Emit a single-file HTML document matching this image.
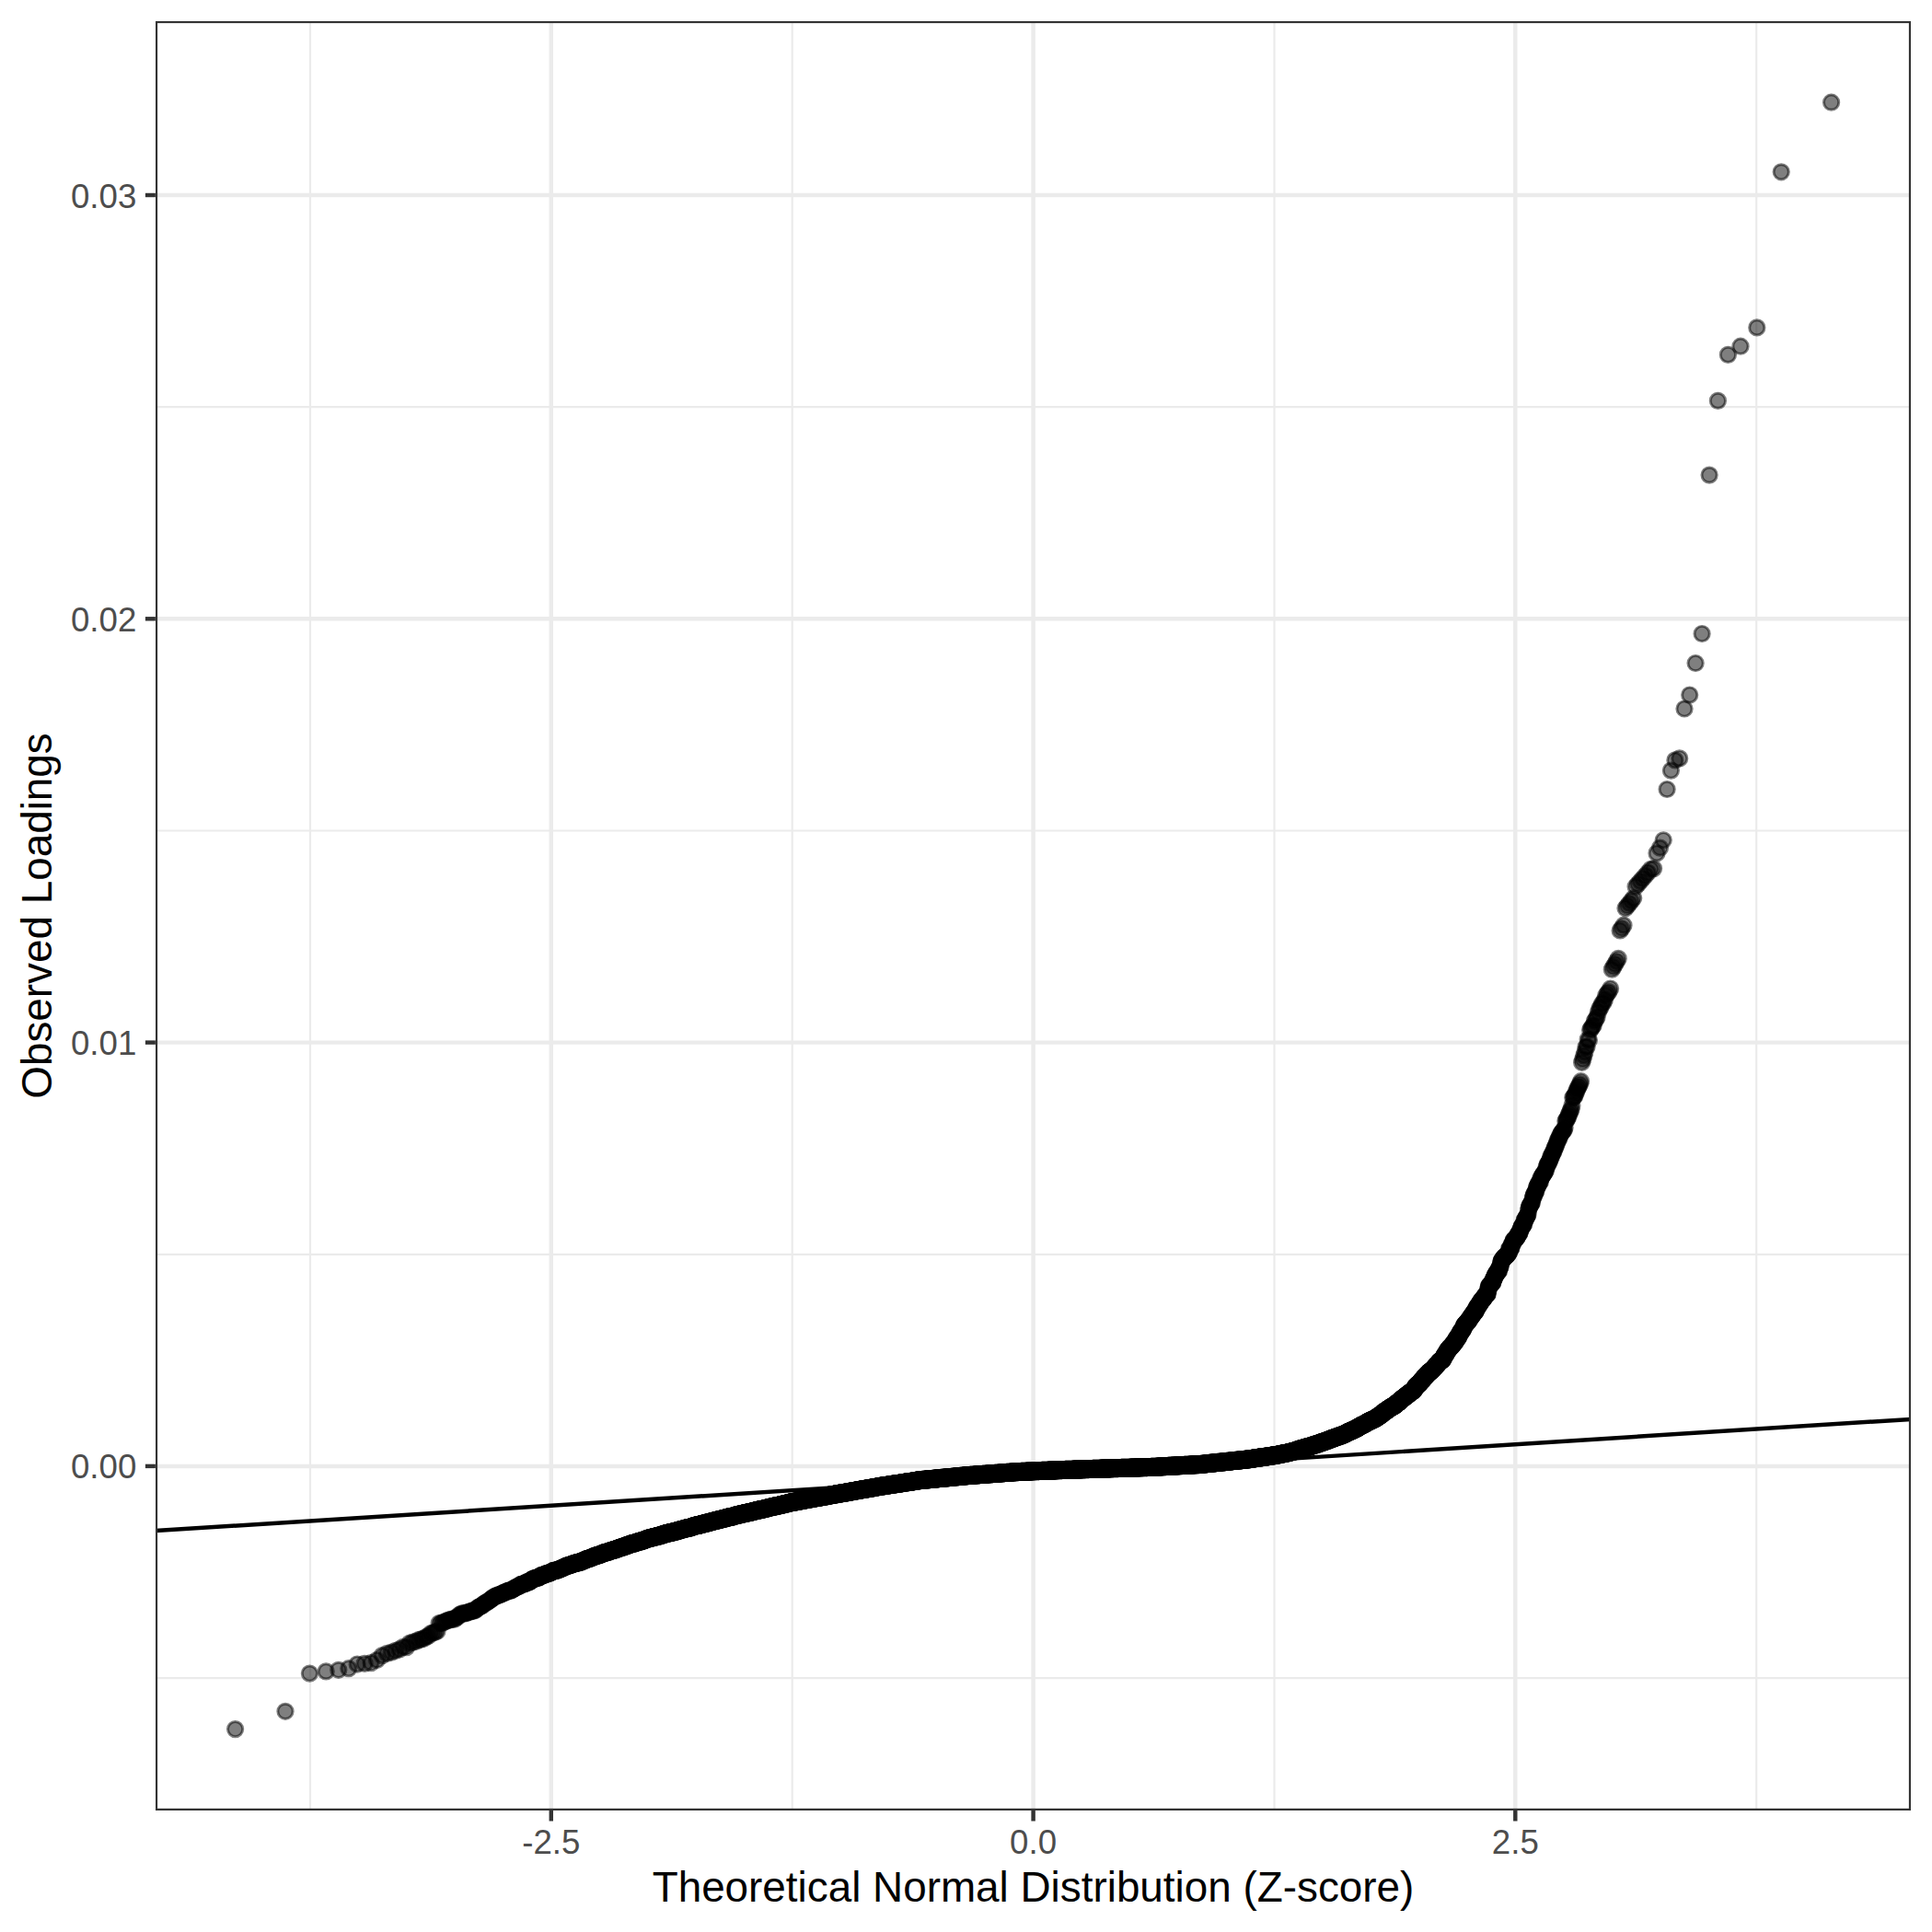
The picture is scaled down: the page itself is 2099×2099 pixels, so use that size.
<!DOCTYPE html>
<html><head><meta charset="utf-8"><title>QQ plot</title>
<style>
html,body{margin:0;padding:0;background:#fff}
svg{display:block}
text{font-family:"Liberation Sans",Arial,Helvetica,sans-serif}
</style></head><body>
<svg width="2099" height="2099" viewBox="0 0 2099 2099">
<rect width="2099" height="2099" fill="#fff"/>
<defs><clipPath id="pc"><rect x="168.9" y="22.9" width="1907.2" height="1944.1"/></clipPath></defs>
<g clip-path="url(#pc)">
<g stroke="#ebebeb" stroke-width="2.2" fill="none">
<path d="M337.0 22.9V1967.0"/><path d="M860.7 22.9V1967.0"/><path d="M1384.5 22.9V1967.0"/><path d="M1908.2 22.9V1967.0"/><path d="M168.9 1823.1H2076.1"/><path d="M168.9 1362.8H2076.1"/><path d="M168.9 902.5H2076.1"/><path d="M168.9 442.2H2076.1"/></g>
<g stroke="#ebebeb" stroke-width="4.45" fill="none">
<path d="M598.8 22.9V1967.0"/><path d="M1122.6 22.9V1967.0"/><path d="M1646.3 22.9V1967.0"/><path d="M168.9 1592.9H2076.1"/><path d="M168.9 1132.6H2076.1"/><path d="M168.9 672.3H2076.1"/><path d="M168.9 212.0H2076.1"/></g>
<g class="pt" fill="#000" stroke="#000" stroke-width="2.95" fill-opacity="0.5" stroke-opacity="0.5">
<circle cx="255.6" cy="1878.6" r="8.15"/><circle cx="310.0" cy="1859.3" r="8.15"/><circle cx="336.4" cy="1818.1" r="8.15"/><circle cx="354.2" cy="1815.9" r="8.15"/><circle cx="367.8" cy="1814.3" r="8.15"/><circle cx="378.8" cy="1812.7" r="8.15"/><circle cx="388.1" cy="1808.0" r="8.15"/><circle cx="396.1" cy="1807.4" r="8.15"/><circle cx="403.1" cy="1806.6" r="8.15"/><circle cx="409.5" cy="1803.5" r="8.15"/><circle cx="415.2" cy="1798.6" r="8.15"/><circle cx="420.5" cy="1796.4" r="8.15"/><circle cx="425.3" cy="1795.2" r="8.15"/><circle cx="429.8" cy="1793.4" r="8.15"/><circle cx="434.1" cy="1791.9" r="8.15"/><circle cx="438.0" cy="1789.4" r="8.15"/><circle cx="441.7" cy="1789.6" r="8.15"/><circle cx="445.2" cy="1785.1" r="8.15"/><circle cx="448.6" cy="1784.1" r="8.15"/><circle cx="451.7" cy="1783.4" r="8.15"/><circle cx="454.8" cy="1781.6" r="8.15"/><circle cx="457.6" cy="1780.9" r="8.15"/><circle cx="460.4" cy="1780.3" r="8.15"/><circle cx="463.1" cy="1778.4" r="8.15"/><circle cx="465.6" cy="1777.3" r="8.15"/><circle cx="468.1" cy="1774.5" r="8.15"/><circle cx="470.5" cy="1773.9" r="8.15"/><circle cx="472.8" cy="1773.2" r="8.15"/><circle cx="475.0" cy="1772.2" r="8.15"/><circle cx="477.1" cy="1763.6" r="8.15"/><circle cx="479.2" cy="1763.4" r="8.15"/><circle cx="481.2" cy="1762.9" r="8.15"/><circle cx="483.2" cy="1761.8" r="8.15"/><circle cx="485.1" cy="1761.2" r="8.15"/><circle cx="487.0" cy="1760.0" r="8.15"/><circle cx="488.8" cy="1759.9" r="8.15"/><circle cx="490.5" cy="1759.2" r="8.15"/><circle cx="492.2" cy="1759.2" r="8.15"/><circle cx="493.9" cy="1759.1" r="8.15"/><circle cx="495.6" cy="1757.4" r="8.15"/><circle cx="497.2" cy="1756.8" r="8.15"/><circle cx="498.7" cy="1754.7" r="8.15"/><circle cx="500.3" cy="1754.0" r="8.15"/><circle cx="501.8" cy="1752.9" r="8.15"/><circle cx="503.2" cy="1752.9" r="8.15"/><circle cx="504.7" cy="1752.8" r="8.15"/><circle cx="506.1" cy="1752.7" r="8.15"/><circle cx="507.4" cy="1752.0" r="8.15"/><circle cx="508.8" cy="1751.3" r="8.15"/><circle cx="510.1" cy="1751.1" r="8.15"/><circle cx="511.4" cy="1750.8" r="8.15"/><circle cx="512.7" cy="1750.2" r="8.15"/><circle cx="514.0" cy="1750.0" r="8.15"/><circle cx="515.2" cy="1749.9" r="8.15"/><circle cx="516.4" cy="1749.4" r="8.15"/><circle cx="517.6" cy="1748.3" r="8.15"/><circle cx="518.8" cy="1746.7" r="8.15"/><circle cx="520.0" cy="1746.3" r="8.15"/><circle cx="521.1" cy="1745.6" r="8.15"/><circle cx="522.2" cy="1745.1" r="8.15"/><circle cx="523.3" cy="1744.4" r="8.15"/><circle cx="524.4" cy="1744.3" r="8.15"/><circle cx="525.5" cy="1742.5" r="8.15"/><circle cx="526.6" cy="1741.8" r="8.15"/><circle cx="527.6" cy="1741.2" r="8.15"/><circle cx="528.6" cy="1741.1" r="8.15"/><circle cx="529.7" cy="1740.3" r="8.15"/><circle cx="530.7" cy="1739.5" r="8.15"/><circle cx="531.6" cy="1738.8" r="8.15"/><circle cx="532.6" cy="1738.4" r="8.15"/><circle cx="533.6" cy="1737.4" r="8.15"/><circle cx="534.5" cy="1736.3" r="8.15"/><circle cx="535.5" cy="1735.9" r="8.15"/><circle cx="536.4" cy="1735.6" r="8.15"/><circle cx="537.3" cy="1734.5" r="8.15"/><circle cx="538.2" cy="1734.0" r="8.15"/><circle cx="539.1" cy="1733.7" r="8.15"/><circle cx="540.0" cy="1733.6" r="8.15"/><circle cx="540.9" cy="1733.5" r="8.15"/><circle cx="541.7" cy="1732.7" r="8.15"/><circle cx="542.6" cy="1732.5" r="8.15"/><circle cx="543.4" cy="1732.5" r="8.15"/><circle cx="544.3" cy="1732.0" r="8.15"/><circle cx="545.1" cy="1731.8" r="8.15"/><circle cx="545.9" cy="1730.8" r="8.15"/><circle cx="546.7" cy="1730.6" r="8.15"/><circle cx="547.5" cy="1730.3" r="8.15"/><circle cx="548.3" cy="1730.3" r="8.15"/><circle cx="549.1" cy="1730.3" r="8.15"/><circle cx="549.8" cy="1729.0" r="8.15"/><circle cx="550.6" cy="1729.0" r="8.15"/><circle cx="551.4" cy="1728.5" r="8.15"/><circle cx="552.1" cy="1728.5" r="8.15"/><circle cx="552.9" cy="1727.9" r="8.15"/><circle cx="553.6" cy="1728.0" r="8.15"/><circle cx="554.3" cy="1727.8" r="8.15"/><circle cx="555.1" cy="1727.8" r="8.15"/><circle cx="555.8" cy="1727.8" r="8.15"/><circle cx="556.5" cy="1727.3" r="8.15"/><circle cx="557.2" cy="1726.4" r="8.15"/><circle cx="557.9" cy="1726.2" r="8.15"/><circle cx="558.6" cy="1725.7" r="8.15"/><circle cx="559.3" cy="1725.4" r="8.15"/><circle cx="559.9" cy="1725.3" r="8.15"/><circle cx="560.6" cy="1724.5" r="8.15"/><circle cx="561.3" cy="1724.0" r="8.15"/><circle cx="561.9" cy="1723.9" r="8.15"/><circle cx="562.6" cy="1723.7" r="8.15"/><circle cx="563.3" cy="1723.4" r="8.15"/><circle cx="563.9" cy="1723.1" r="8.15"/><circle cx="564.5" cy="1723.1" r="8.15"/><circle cx="565.2" cy="1721.7" r="8.15"/><circle cx="565.8" cy="1721.7" r="8.15"/><circle cx="566.4" cy="1721.3" r="8.15"/><circle cx="567.1" cy="1721.0" r="8.15"/><circle cx="567.7" cy="1721.0" r="8.15"/><circle cx="568.3" cy="1720.8" r="8.15"/><circle cx="568.9" cy="1720.8" r="8.15"/><circle cx="569.5" cy="1720.8" r="8.15"/><circle cx="570.1" cy="1720.7" r="8.15"/><circle cx="570.7" cy="1720.4" r="8.15"/><circle cx="571.3" cy="1720.1" r="8.15"/><circle cx="575.3" cy="1718.1" r="8.15"/><circle cx="576.9" cy="1717.7" r="8.15"/><circle cx="578.5" cy="1716.0" r="8.15"/><circle cx="580.1" cy="1715.2" r="8.15"/><circle cx="582.7" cy="1714.5" r="8.15"/><circle cx="599.6" cy="1707.7" r="8.15"/><circle cx="1571.0" cy="1470.5" r="8.15"/><circle cx="1581.5" cy="1456.9" r="8.15"/><circle cx="1584.6" cy="1451.9" r="8.15"/><circle cx="1586.3" cy="1448.8" r="8.15"/><circle cx="1586.5" cy="1448.1" r="8.15"/><circle cx="1590.2" cy="1442.1" r="8.15"/><circle cx="1590.4" cy="1441.0" r="8.15"/><circle cx="1595.9" cy="1434.1" r="8.15"/><circle cx="1596.8" cy="1433.0" r="8.15"/><circle cx="1597.5" cy="1431.7" r="8.15"/><circle cx="1598.3" cy="1430.6" r="8.15"/><circle cx="1599.7" cy="1429.0" r="8.15"/><circle cx="1601.0" cy="1426.5" r="8.15"/><circle cx="1603.5" cy="1423.4" r="8.15"/><circle cx="1603.7" cy="1422.1" r="8.15"/><circle cx="1608.7" cy="1414.4" r="8.15"/><circle cx="1612.1" cy="1410.3" r="8.15"/><circle cx="1613.2" cy="1408.1" r="8.15"/><circle cx="1614.3" cy="1407.5" r="8.15"/><circle cx="1614.6" cy="1406.9" r="8.15"/><circle cx="1616.4" cy="1402.9" r="8.15"/><circle cx="1617.3" cy="1398.3" r="8.15"/><circle cx="1618.8" cy="1396.8" r="8.15"/><circle cx="1623.4" cy="1388.5" r="8.15"/><circle cx="1623.8" cy="1387.5" r="8.15"/><circle cx="1624.1" cy="1386.3" r="8.15"/><circle cx="1624.4" cy="1385.6" r="8.15"/><circle cx="1628.7" cy="1377.8" r="8.15"/><circle cx="1629.7" cy="1376.8" r="8.15"/><circle cx="1630.1" cy="1376.0" r="8.15"/><circle cx="1630.4" cy="1373.9" r="8.15"/><circle cx="1630.8" cy="1371.0" r="8.15"/><circle cx="1632.5" cy="1368.9" r="8.15"/><circle cx="1632.9" cy="1367.5" r="8.15"/><circle cx="1634.0" cy="1366.4" r="8.15"/><circle cx="1636.5" cy="1364.2" r="8.15"/><circle cx="1638.4" cy="1361.9" r="8.15"/><circle cx="1639.6" cy="1360.8" r="8.15"/><circle cx="1641.5" cy="1356.5" r="8.15"/><circle cx="1641.9" cy="1355.9" r="8.15"/><circle cx="1643.1" cy="1351.8" r="8.15"/><circle cx="1643.5" cy="1350.7" r="8.15"/><circle cx="1643.9" cy="1350.2" r="8.15"/><circle cx="1646.8" cy="1345.7" r="8.15"/><circle cx="1648.1" cy="1344.3" r="8.15"/><circle cx="1649.4" cy="1342.1" r="8.15"/><circle cx="1649.8" cy="1340.4" r="8.15"/><circle cx="1651.1" cy="1339.0" r="8.15"/><circle cx="1651.6" cy="1337.3" r="8.15"/><circle cx="1652.0" cy="1335.6" r="8.15"/><circle cx="1652.5" cy="1335.1" r="8.15"/><circle cx="1654.7" cy="1330.8" r="8.15"/><circle cx="1657.1" cy="1324.7" r="8.15"/><circle cx="1657.6" cy="1324.2" r="8.15"/><circle cx="1658.0" cy="1322.6" r="8.15"/><circle cx="1658.5" cy="1321.8" r="8.15"/><circle cx="1659.0" cy="1321.2" r="8.15"/><circle cx="1659.5" cy="1320.8" r="8.15"/><circle cx="1660.0" cy="1319.6" r="8.15"/><circle cx="1660.5" cy="1315.4" r="8.15"/><circle cx="1661.0" cy="1312.9" r="8.15"/><circle cx="1661.5" cy="1311.4" r="8.15"/><circle cx="1662.0" cy="1309.9" r="8.15"/><circle cx="1662.5" cy="1309.0" r="8.15"/><circle cx="1663.0" cy="1308.6" r="8.15"/><circle cx="1663.5" cy="1308.1" r="8.15"/><circle cx="1664.0" cy="1306.9" r="8.15"/><circle cx="1664.5" cy="1306.0" r="8.15"/><circle cx="1665.1" cy="1302.6" r="8.15"/><circle cx="1665.6" cy="1300.9" r="8.15"/><circle cx="1667.2" cy="1296.3" r="8.15"/><circle cx="1667.7" cy="1295.9" r="8.15"/><circle cx="1668.3" cy="1294.8" r="8.15"/><circle cx="1668.8" cy="1294.4" r="8.15"/><circle cx="1669.4" cy="1290.5" r="8.15"/><circle cx="1671.1" cy="1287.3" r="8.15"/><circle cx="1671.6" cy="1285.4" r="8.15"/><circle cx="1672.2" cy="1285.1" r="8.15"/><circle cx="1672.8" cy="1284.3" r="8.15"/><circle cx="1673.4" cy="1284.1" r="8.15"/><circle cx="1673.9" cy="1280.2" r="8.15"/><circle cx="1674.5" cy="1279.6" r="8.15"/><circle cx="1675.1" cy="1278.1" r="8.15"/><circle cx="1675.7" cy="1277.1" r="8.15"/><circle cx="1676.3" cy="1276.5" r="8.15"/><circle cx="1676.9" cy="1275.7" r="8.15"/><circle cx="1677.5" cy="1274.7" r="8.15"/><circle cx="1678.1" cy="1273.7" r="8.15"/><circle cx="1678.8" cy="1272.7" r="8.15"/><circle cx="1679.4" cy="1271.7" r="8.15"/><circle cx="1680.0" cy="1268.0" r="8.15"/><circle cx="1680.7" cy="1267.0" r="8.15"/><circle cx="1681.3" cy="1264.7" r="8.15"/><circle cx="1681.9" cy="1264.3" r="8.15"/><circle cx="1682.6" cy="1263.2" r="8.15"/><circle cx="1683.3" cy="1261.7" r="8.15"/><circle cx="1683.9" cy="1260.0" r="8.15"/><circle cx="1684.6" cy="1257.1" r="8.15"/><circle cx="1685.3" cy="1257.1" r="8.15"/><circle cx="1685.9" cy="1254.5" r="8.15"/><circle cx="1686.6" cy="1253.8" r="8.15"/><circle cx="1687.3" cy="1251.8" r="8.15"/><circle cx="1688.0" cy="1251.0" r="8.15"/><circle cx="1688.7" cy="1248.0" r="8.15"/><circle cx="1689.4" cy="1247.1" r="8.15"/><circle cx="1690.1" cy="1245.3" r="8.15"/><circle cx="1690.9" cy="1243.6" r="8.15"/><circle cx="1691.6" cy="1241.5" r="8.15"/><circle cx="1692.3" cy="1239.0" r="8.15"/><circle cx="1693.1" cy="1237.6" r="8.15"/><circle cx="1693.8" cy="1237.1" r="8.15"/><circle cx="1694.6" cy="1234.4" r="8.15"/><circle cx="1695.4" cy="1232.7" r="8.15"/><circle cx="1696.1" cy="1231.1" r="8.15"/><circle cx="1696.9" cy="1230.3" r="8.15"/><circle cx="1697.7" cy="1229.1" r="8.15"/><circle cx="1698.5" cy="1228.2" r="8.15"/><circle cx="1699.3" cy="1227.6" r="8.15"/><circle cx="1700.1" cy="1225.0" r="8.15"/><circle cx="1700.9" cy="1217.9" r="8.15"/><circle cx="1701.8" cy="1217.3" r="8.15"/><circle cx="1702.6" cy="1215.4" r="8.15"/><circle cx="1703.5" cy="1214.0" r="8.15"/><circle cx="1704.3" cy="1211.6" r="8.15"/><circle cx="1705.2" cy="1209.4" r="8.15"/><circle cx="1706.1" cy="1207.1" r="8.15"/><circle cx="1707.0" cy="1205.2" r="8.15"/><circle cx="1707.9" cy="1201.0" r="8.15"/><circle cx="1708.8" cy="1192.6" r="8.15"/><circle cx="1709.7" cy="1191.9" r="8.15"/><circle cx="1710.7" cy="1190.9" r="8.15"/><circle cx="1711.6" cy="1188.6" r="8.15"/><circle cx="1712.6" cy="1185.9" r="8.15"/><circle cx="1713.6" cy="1183.5" r="8.15"/><circle cx="1714.5" cy="1181.5" r="8.15"/><circle cx="1715.5" cy="1179.8" r="8.15"/><circle cx="1716.6" cy="1177.6" r="8.15"/><circle cx="1717.6" cy="1174.7" r="8.15"/><circle cx="1718.6" cy="1154.3" r="8.15"/><circle cx="1719.7" cy="1150.9" r="8.15"/><circle cx="1720.8" cy="1146.9" r="8.15"/><circle cx="1721.9" cy="1143.1" r="8.15"/><circle cx="1723.0" cy="1137.5" r="8.15"/><circle cx="1724.1" cy="1137.0" r="8.15"/><circle cx="1725.2" cy="1129.3" r="8.15"/><circle cx="1726.4" cy="1130.0" r="8.15"/><circle cx="1727.6" cy="1119.0" r="8.15"/><circle cx="1728.8" cy="1117.4" r="8.15"/><circle cx="1730.0" cy="1115.3" r="8.15"/><circle cx="1731.2" cy="1114.0" r="8.15"/><circle cx="1732.5" cy="1109.4" r="8.15"/><circle cx="1733.8" cy="1107.2" r="8.15"/><circle cx="1735.1" cy="1105.0" r="8.15"/><circle cx="1736.4" cy="1099.8" r="8.15"/><circle cx="1737.8" cy="1095.9" r="8.15"/><circle cx="1739.1" cy="1094.1" r="8.15"/><circle cx="1740.5" cy="1090.5" r="8.15"/><circle cx="1742.0" cy="1089.3" r="8.15"/><circle cx="1743.4" cy="1086.0" r="8.15"/><circle cx="1744.9" cy="1081.3" r="8.15"/><circle cx="1746.5" cy="1079.1" r="8.15"/><circle cx="1748.0" cy="1077.3" r="8.15"/><circle cx="1749.6" cy="1074.0" r="8.15"/><circle cx="1751.3" cy="1053.2" r="8.15"/><circle cx="1753.0" cy="1050.4" r="8.15"/><circle cx="1754.7" cy="1047.5" r="8.15"/><circle cx="1756.4" cy="1044.5" r="8.15"/><circle cx="1758.2" cy="1041.4" r="8.15"/><circle cx="1760.1" cy="1011.0" r="8.15"/><circle cx="1762.0" cy="1008.5" r="8.15"/><circle cx="1764.0" cy="1005.2" r="8.15"/><circle cx="1766.0" cy="986.8" r="8.15"/><circle cx="1768.1" cy="984.2" r="8.15"/><circle cx="1770.2" cy="981.5" r="8.15"/><circle cx="1772.4" cy="978.7" r="8.15"/><circle cx="1774.7" cy="975.8" r="8.15"/><circle cx="1777.1" cy="963.2" r="8.15"/><circle cx="1779.6" cy="960.4" r="8.15"/><circle cx="1782.1" cy="957.5" r="8.15"/><circle cx="1784.8" cy="954.5" r="8.15"/><circle cx="1787.6" cy="951.3" r="8.15"/><circle cx="1790.4" cy="948.0" r="8.15"/><circle cx="1793.5" cy="944.3" r="8.15"/><circle cx="1796.6" cy="943.6" r="8.15"/><circle cx="1800.0" cy="926.9" r="8.15"/><circle cx="1803.5" cy="921.1" r="8.15"/><circle cx="1807.2" cy="912.8" r="8.15"/><circle cx="1811.1" cy="857.5" r="8.15"/><circle cx="1815.4" cy="837.1" r="8.15"/><circle cx="1819.9" cy="825.9" r="8.15"/><circle cx="1824.7" cy="823.9" r="8.15"/><circle cx="1830.0" cy="770.0" r="8.15"/><circle cx="1835.7" cy="755.0" r="8.15"/><circle cx="1842.1" cy="720.5" r="8.15"/><circle cx="1849.1" cy="688.5" r="8.15"/><circle cx="1857.1" cy="516.1" r="8.15"/><circle cx="1866.4" cy="435.4" r="8.15"/><circle cx="1877.4" cy="385.4" r="8.15"/><circle cx="1891.0" cy="376.2" r="8.15"/><circle cx="1908.8" cy="355.9" r="8.15"/><circle cx="1935.2" cy="186.8" r="8.15"/><circle cx="1989.6" cy="111.2" r="8.15"/>
</g>
<g class="pt" fill="#000" stroke="#000" stroke-width="3.40" fill-opacity="0.75" stroke-opacity="0.75">
<circle cx="572.1" cy="1719.0" r="8.15"/><circle cx="573.3" cy="1718.9" r="8.15"/><circle cx="574.4" cy="1718.8" r="8.15"/><circle cx="576.1" cy="1717.8" r="8.15"/><circle cx="577.7" cy="1716.2" r="8.15"/><circle cx="579.3" cy="1715.5" r="8.15"/><circle cx="580.9" cy="1714.9" r="8.15"/><circle cx="581.9" cy="1714.7" r="8.15"/><circle cx="583.5" cy="1714.1" r="8.15"/><circle cx="584.5" cy="1714.0" r="8.15"/><circle cx="585.5" cy="1713.7" r="8.15"/><circle cx="586.4" cy="1712.9" r="8.15"/><circle cx="587.4" cy="1712.2" r="8.15"/><circle cx="588.4" cy="1711.7" r="8.15"/><circle cx="589.3" cy="1711.5" r="8.15"/><circle cx="590.2" cy="1711.4" r="8.15"/><circle cx="591.2" cy="1710.9" r="8.15"/><circle cx="592.1" cy="1710.6" r="8.15"/><circle cx="593.0" cy="1710.3" r="8.15"/><circle cx="593.9" cy="1709.7" r="8.15"/><circle cx="594.7" cy="1709.5" r="8.15"/><circle cx="595.6" cy="1709.3" r="8.15"/><circle cx="596.5" cy="1709.2" r="8.15"/><circle cx="597.3" cy="1708.9" r="8.15"/><circle cx="598.2" cy="1708.4" r="8.15"/><circle cx="599.0" cy="1708.1" r="8.15"/><circle cx="600.3" cy="1707.1" r="8.15"/><circle cx="601.1" cy="1706.6" r="8.15"/><circle cx="601.9" cy="1706.6" r="8.15"/><circle cx="602.7" cy="1706.5" r="8.15"/><circle cx="603.5" cy="1706.3" r="8.15"/><circle cx="604.3" cy="1706.1" r="8.15"/><circle cx="605.1" cy="1706.0" r="8.15"/><circle cx="605.8" cy="1705.8" r="8.15"/><circle cx="606.6" cy="1705.3" r="8.15"/><circle cx="607.4" cy="1705.0" r="8.15"/><circle cx="608.1" cy="1704.8" r="8.15"/><circle cx="608.8" cy="1704.5" r="8.15"/><circle cx="609.6" cy="1704.1" r="8.15"/><circle cx="610.3" cy="1703.8" r="8.15"/><circle cx="611.0" cy="1703.5" r="8.15"/><circle cx="611.8" cy="1703.4" r="8.15"/><circle cx="612.5" cy="1703.1" r="8.15"/><circle cx="613.2" cy="1702.3" r="8.15"/><circle cx="613.9" cy="1702.2" r="8.15"/><circle cx="614.6" cy="1701.9" r="8.15"/><circle cx="615.3" cy="1701.5" r="8.15"/><circle cx="616.0" cy="1701.2" r="8.15"/><circle cx="616.7" cy="1701.1" r="8.15"/><circle cx="617.3" cy="1701.0" r="8.15"/><circle cx="618.0" cy="1700.6" r="8.15"/><circle cx="618.7" cy="1700.5" r="8.15"/><circle cx="619.3" cy="1700.4" r="8.15"/><circle cx="620.0" cy="1700.2" r="8.15"/><circle cx="620.6" cy="1699.8" r="8.15"/><circle cx="621.3" cy="1699.5" r="8.15"/><circle cx="621.9" cy="1699.3" r="8.15"/><circle cx="622.6" cy="1699.1" r="8.15"/><circle cx="623.2" cy="1698.9" r="8.15"/><circle cx="623.8" cy="1698.7" r="8.15"/><circle cx="624.4" cy="1698.5" r="8.15"/><circle cx="625.1" cy="1698.4" r="8.15"/><circle cx="625.7" cy="1698.3" r="8.15"/><circle cx="626.3" cy="1697.9" r="8.15"/><circle cx="626.9" cy="1697.7" r="8.15"/><circle cx="627.5" cy="1697.6" r="8.15"/><circle cx="629.0" cy="1697.4" r="8.15"/><circle cx="630.4" cy="1697.0" r="8.15"/><circle cx="631.9" cy="1696.6" r="8.15"/><circle cx="632.4" cy="1696.2" r="8.15"/><circle cx="634.7" cy="1695.2" r="8.15"/><circle cx="636.1" cy="1694.6" r="8.15"/><circle cx="641.3" cy="1692.9" r="8.15"/><circle cx="643.4" cy="1692.0" r="8.15"/><circle cx="654.5" cy="1687.9" r="8.15"/><circle cx="1502.4" cy="1535.0" r="8.15"/><circle cx="1537.7" cy="1507.2" r="8.15"/><circle cx="1549.6" cy="1494.2" r="8.15"/><circle cx="1557.3" cy="1487.1" r="8.15"/><circle cx="1559.4" cy="1484.9" r="8.15"/><circle cx="1567.3" cy="1477.2" r="8.15"/><circle cx="1568.2" cy="1475.4" r="8.15"/><circle cx="1568.5" cy="1474.5" r="8.15"/><circle cx="1568.9" cy="1473.4" r="8.15"/><circle cx="1569.3" cy="1472.8" r="8.15"/><circle cx="1570.7" cy="1471.4" r="8.15"/><circle cx="1571.2" cy="1469.7" r="8.15"/><circle cx="1571.6" cy="1469.2" r="8.15"/><circle cx="1572.5" cy="1468.0" r="8.15"/><circle cx="1574.0" cy="1465.7" r="8.15"/><circle cx="1574.4" cy="1465.2" r="8.15"/><circle cx="1575.9" cy="1463.7" r="8.15"/><circle cx="1578.0" cy="1461.2" r="8.15"/><circle cx="1578.4" cy="1460.7" r="8.15"/><circle cx="1578.8" cy="1460.0" r="8.15"/><circle cx="1579.2" cy="1459.5" r="8.15"/><circle cx="1580.2" cy="1458.6" r="8.15"/><circle cx="1581.2" cy="1457.6" r="8.15"/><circle cx="1581.8" cy="1455.2" r="8.15"/><circle cx="1583.4" cy="1453.8" r="8.15"/><circle cx="1583.8" cy="1453.2" r="8.15"/><circle cx="1584.3" cy="1452.7" r="8.15"/><circle cx="1585.5" cy="1450.3" r="8.15"/><circle cx="1585.9" cy="1449.4" r="8.15"/><circle cx="1586.8" cy="1447.2" r="8.15"/><circle cx="1587.9" cy="1446.2" r="8.15"/><circle cx="1588.3" cy="1445.8" r="8.15"/><circle cx="1588.7" cy="1444.7" r="8.15"/><circle cx="1589.8" cy="1443.1" r="8.15"/><circle cx="1592.7" cy="1437.8" r="8.15"/><circle cx="1593.2" cy="1437.3" r="8.15"/><circle cx="1593.7" cy="1436.7" r="8.15"/><circle cx="1594.1" cy="1436.3" r="8.15"/><circle cx="1597.2" cy="1432.1" r="8.15"/><circle cx="1597.9" cy="1430.9" r="8.15"/><circle cx="1598.6" cy="1429.8" r="8.15"/><circle cx="1600.1" cy="1428.1" r="8.15"/><circle cx="1600.6" cy="1427.2" r="8.15"/><circle cx="1601.3" cy="1425.7" r="8.15"/><circle cx="1602.6" cy="1425.0" r="8.15"/><circle cx="1603.1" cy="1424.5" r="8.15"/><circle cx="1604.9" cy="1420.8" r="8.15"/><circle cx="1605.4" cy="1419.2" r="8.15"/><circle cx="1605.9" cy="1418.4" r="8.15"/><circle cx="1606.5" cy="1418.1" r="8.15"/><circle cx="1607.8" cy="1416.0" r="8.15"/><circle cx="1608.3" cy="1414.8" r="8.15"/><circle cx="1610.0" cy="1413.1" r="8.15"/><circle cx="1610.5" cy="1411.8" r="8.15"/><circle cx="1611.1" cy="1411.3" r="8.15"/><circle cx="1611.6" cy="1411.1" r="8.15"/><circle cx="1615.1" cy="1406.1" r="8.15"/><circle cx="1616.8" cy="1401.2" r="8.15"/><circle cx="1617.7" cy="1397.3" r="8.15"/><circle cx="1618.3" cy="1397.2" r="8.15"/><circle cx="1619.2" cy="1395.6" r="8.15"/><circle cx="1619.8" cy="1395.0" r="8.15"/><circle cx="1620.5" cy="1394.4" r="8.15"/><circle cx="1621.1" cy="1393.7" r="8.15"/><circle cx="1621.7" cy="1393.1" r="8.15"/><circle cx="1622.3" cy="1390.3" r="8.15"/><circle cx="1623.0" cy="1389.1" r="8.15"/><circle cx="1624.9" cy="1384.8" r="8.15"/><circle cx="1625.5" cy="1384.0" r="8.15"/><circle cx="1626.2" cy="1383.1" r="8.15"/><circle cx="1626.9" cy="1381.4" r="8.15"/><circle cx="1627.5" cy="1381.0" r="8.15"/><circle cx="1628.2" cy="1380.9" r="8.15"/><circle cx="1629.2" cy="1377.1" r="8.15"/><circle cx="1631.3" cy="1370.0" r="8.15"/><circle cx="1632.0" cy="1369.3" r="8.15"/><circle cx="1633.4" cy="1366.9" r="8.15"/><circle cx="1634.5" cy="1365.7" r="8.15"/><circle cx="1635.2" cy="1365.1" r="8.15"/><circle cx="1636.0" cy="1364.7" r="8.15"/><circle cx="1637.1" cy="1363.6" r="8.15"/><circle cx="1637.8" cy="1362.7" r="8.15"/><circle cx="1639.0" cy="1360.9" r="8.15"/><circle cx="1640.1" cy="1356.5" r="8.15"/><circle cx="1640.9" cy="1356.4" r="8.15"/><circle cx="1642.5" cy="1351.9" r="8.15"/><circle cx="1644.5" cy="1347.4" r="8.15"/><circle cx="1645.4" cy="1346.9" r="8.15"/><circle cx="1646.2" cy="1346.0" r="8.15"/><circle cx="1647.4" cy="1344.9" r="8.15"/><circle cx="1648.7" cy="1342.3" r="8.15"/><circle cx="1650.5" cy="1339.8" r="8.15"/><circle cx="1653.1" cy="1333.2" r="8.15"/><circle cx="1654.0" cy="1331.7" r="8.15"/><circle cx="1655.4" cy="1330.1" r="8.15"/><circle cx="1656.4" cy="1325.8" r="8.15"/><circle cx="1666.4" cy="1298.7" r="8.15"/><circle cx="1670.2" cy="1289.0" r="8.15"/>
</g>
<g class="pt" fill="#000" stroke="#000" stroke-width="3.62" fill-opacity="0.875" stroke-opacity="0.875">
<circle cx="628.2" cy="1697.6" r="8.15"/><circle cx="629.7" cy="1697.2" r="8.15"/><circle cx="631.2" cy="1696.8" r="8.15"/><circle cx="633.1" cy="1695.9" r="8.15"/><circle cx="634.0" cy="1695.5" r="8.15"/><circle cx="635.4" cy="1695.0" r="8.15"/><circle cx="636.7" cy="1694.1" r="8.15"/><circle cx="637.5" cy="1693.9" r="8.15"/><circle cx="638.3" cy="1693.7" r="8.15"/><circle cx="639.1" cy="1693.5" r="8.15"/><circle cx="639.9" cy="1693.3" r="8.15"/><circle cx="640.7" cy="1693.1" r="8.15"/><circle cx="642.0" cy="1692.5" r="8.15"/><circle cx="642.7" cy="1692.3" r="8.15"/><circle cx="644.0" cy="1691.6" r="8.15"/><circle cx="644.7" cy="1691.3" r="8.15"/><circle cx="645.5" cy="1691.0" r="8.15"/><circle cx="646.2" cy="1690.7" r="8.15"/><circle cx="646.9" cy="1690.6" r="8.15"/><circle cx="647.7" cy="1690.3" r="8.15"/><circle cx="648.4" cy="1690.0" r="8.15"/><circle cx="649.1" cy="1689.7" r="8.15"/><circle cx="649.8" cy="1689.6" r="8.15"/><circle cx="650.5" cy="1689.4" r="8.15"/><circle cx="651.2" cy="1689.2" r="8.15"/><circle cx="651.9" cy="1689.0" r="8.15"/><circle cx="652.6" cy="1688.7" r="8.15"/><circle cx="653.3" cy="1688.4" r="8.15"/><circle cx="653.9" cy="1688.3" r="8.15"/><circle cx="655.0" cy="1687.5" r="8.15"/><circle cx="655.7" cy="1687.2" r="8.15"/><circle cx="656.4" cy="1687.2" r="8.15"/><circle cx="657.0" cy="1687.0" r="8.15"/><circle cx="657.7" cy="1686.7" r="8.15"/><circle cx="658.3" cy="1686.5" r="8.15"/><circle cx="658.9" cy="1686.4" r="8.15"/><circle cx="659.6" cy="1686.3" r="8.15"/><circle cx="660.2" cy="1686.2" r="8.15"/><circle cx="660.8" cy="1686.0" r="8.15"/><circle cx="661.5" cy="1685.8" r="8.15"/><circle cx="662.1" cy="1685.5" r="8.15"/><circle cx="662.7" cy="1685.1" r="8.15"/><circle cx="663.3" cy="1684.9" r="8.15"/><circle cx="663.9" cy="1684.7" r="8.15"/><circle cx="664.5" cy="1684.5" r="8.15"/><circle cx="665.1" cy="1684.4" r="8.15"/><circle cx="665.7" cy="1684.3" r="8.15"/><circle cx="666.3" cy="1684.1" r="8.15"/><circle cx="666.9" cy="1683.9" r="8.15"/><circle cx="667.5" cy="1683.7" r="8.15"/><circle cx="668.8" cy="1683.4" r="8.15"/><circle cx="669.4" cy="1683.2" r="8.15"/><circle cx="670.0" cy="1682.9" r="8.15"/><circle cx="672.8" cy="1682.0" r="8.15"/><circle cx="677.6" cy="1680.4" r="8.15"/><circle cx="684.2" cy="1678.0" r="8.15"/><circle cx="685.4" cy="1677.5" r="8.15"/><circle cx="1516.9" cy="1525.2" r="8.15"/><circle cx="1521.3" cy="1521.7" r="8.15"/><circle cx="1527.4" cy="1516.8" r="8.15"/><circle cx="1535.6" cy="1510.4" r="8.15"/><circle cx="1535.9" cy="1509.8" r="8.15"/><circle cx="1536.3" cy="1509.4" r="8.15"/><circle cx="1538.0" cy="1506.4" r="8.15"/><circle cx="1539.1" cy="1505.6" r="8.15"/><circle cx="1539.5" cy="1505.2" r="8.15"/><circle cx="1541.6" cy="1503.5" r="8.15"/><circle cx="1543.1" cy="1501.5" r="8.15"/><circle cx="1545.2" cy="1499.5" r="8.15"/><circle cx="1546.2" cy="1498.5" r="8.15"/><circle cx="1546.6" cy="1497.4" r="8.15"/><circle cx="1548.2" cy="1495.4" r="8.15"/><circle cx="1549.2" cy="1494.9" r="8.15"/><circle cx="1550.5" cy="1493.1" r="8.15"/><circle cx="1551.6" cy="1492.3" r="8.15"/><circle cx="1552.0" cy="1491.5" r="8.15"/><circle cx="1555.5" cy="1488.8" r="8.15"/><circle cx="1556.0" cy="1488.3" r="8.15"/><circle cx="1556.5" cy="1488.0" r="8.15"/><circle cx="1557.0" cy="1487.5" r="8.15"/><circle cx="1557.7" cy="1486.5" r="8.15"/><circle cx="1559.8" cy="1484.1" r="8.15"/><circle cx="1560.3" cy="1483.3" r="8.15"/><circle cx="1561.5" cy="1482.2" r="8.15"/><circle cx="1562.0" cy="1481.7" r="8.15"/><circle cx="1562.5" cy="1481.2" r="8.15"/><circle cx="1563.0" cy="1480.4" r="8.15"/><circle cx="1563.5" cy="1479.9" r="8.15"/><circle cx="1564.0" cy="1479.4" r="8.15"/><circle cx="1564.5" cy="1478.8" r="8.15"/><circle cx="1565.7" cy="1478.1" r="8.15"/><circle cx="1566.9" cy="1477.5" r="8.15"/><circle cx="1567.8" cy="1476.3" r="8.15"/><circle cx="1569.7" cy="1472.1" r="8.15"/><circle cx="1570.2" cy="1471.8" r="8.15"/><circle cx="1572.1" cy="1468.4" r="8.15"/><circle cx="1573.0" cy="1466.8" r="8.15"/><circle cx="1573.5" cy="1466.2" r="8.15"/><circle cx="1574.8" cy="1464.5" r="8.15"/><circle cx="1575.4" cy="1464.0" r="8.15"/><circle cx="1576.4" cy="1463.0" r="8.15"/><circle cx="1576.9" cy="1462.5" r="8.15"/><circle cx="1577.5" cy="1462.0" r="8.15"/><circle cx="1579.7" cy="1458.9" r="8.15"/><circle cx="1580.7" cy="1458.0" r="8.15"/><circle cx="1582.3" cy="1454.8" r="8.15"/><circle cx="1582.9" cy="1454.1" r="8.15"/><circle cx="1585.0" cy="1450.5" r="8.15"/><circle cx="1587.3" cy="1446.6" r="8.15"/><circle cx="1589.3" cy="1443.7" r="8.15"/><circle cx="1590.8" cy="1440.0" r="8.15"/><circle cx="1591.5" cy="1439.2" r="8.15"/><circle cx="1592.2" cy="1439.0" r="8.15"/><circle cx="1594.7" cy="1435.7" r="8.15"/><circle cx="1595.4" cy="1435.0" r="8.15"/><circle cx="1596.3" cy="1433.3" r="8.15"/><circle cx="1599.2" cy="1429.4" r="8.15"/><circle cx="1602.0" cy="1425.3" r="8.15"/><circle cx="1604.2" cy="1421.1" r="8.15"/><circle cx="1607.1" cy="1417.0" r="8.15"/><circle cx="1609.3" cy="1413.3" r="8.15"/><circle cx="1612.6" cy="1409.4" r="8.15"/><circle cx="1613.8" cy="1407.4" r="8.15"/><circle cx="1615.8" cy="1405.7" r="8.15"/>
</g>
<g class="pt" fill="#000" stroke="#000" stroke-width="3.74" fill-opacity="0.9375" stroke-opacity="0.9375">
<circle cx="668.2" cy="1683.6" r="8.15"/><circle cx="670.6" cy="1682.6" r="8.15"/><circle cx="671.4" cy="1682.4" r="8.15"/><circle cx="672.1" cy="1682.2" r="8.15"/><circle cx="673.4" cy="1681.6" r="8.15"/><circle cx="674.1" cy="1681.4" r="8.15"/><circle cx="674.9" cy="1681.2" r="8.15"/><circle cx="675.6" cy="1681.0" r="8.15"/><circle cx="676.3" cy="1680.8" r="8.15"/><circle cx="677.0" cy="1680.6" r="8.15"/><circle cx="678.2" cy="1680.1" r="8.15"/><circle cx="678.9" cy="1679.9" r="8.15"/><circle cx="679.6" cy="1679.6" r="8.15"/><circle cx="680.3" cy="1679.3" r="8.15"/><circle cx="681.0" cy="1679.1" r="8.15"/><circle cx="681.7" cy="1678.9" r="8.15"/><circle cx="682.3" cy="1678.6" r="8.15"/><circle cx="683.0" cy="1678.4" r="8.15"/><circle cx="683.7" cy="1678.2" r="8.15"/><circle cx="684.8" cy="1677.7" r="8.15"/><circle cx="685.9" cy="1677.2" r="8.15"/><circle cx="686.6" cy="1677.0" r="8.15"/><circle cx="687.2" cy="1676.9" r="8.15"/><circle cx="687.9" cy="1676.8" r="8.15"/><circle cx="688.5" cy="1676.7" r="8.15"/><circle cx="689.1" cy="1676.5" r="8.15"/><circle cx="689.7" cy="1676.4" r="8.15"/><circle cx="690.4" cy="1676.1" r="8.15"/><circle cx="691.0" cy="1675.9" r="8.15"/><circle cx="691.6" cy="1675.7" r="8.15"/><circle cx="692.2" cy="1675.5" r="8.15"/><circle cx="692.8" cy="1675.2" r="8.15"/><circle cx="693.4" cy="1675.1" r="8.15"/><circle cx="694.0" cy="1674.9" r="8.15"/><circle cx="695.3" cy="1674.6" r="8.15"/><circle cx="695.9" cy="1674.4" r="8.15"/><circle cx="696.5" cy="1674.3" r="8.15"/><circle cx="697.1" cy="1674.0" r="8.15"/><circle cx="699.1" cy="1673.5" r="8.15"/><circle cx="700.3" cy="1673.1" r="8.15"/><circle cx="700.9" cy="1672.7" r="8.15"/><circle cx="701.5" cy="1672.5" r="8.15"/><circle cx="703.4" cy="1671.8" r="8.15"/><circle cx="720.2" cy="1667.2" r="8.15"/><circle cx="1506.1" cy="1532.6" r="8.15"/><circle cx="1506.5" cy="1532.1" r="8.15"/><circle cx="1514.9" cy="1527.0" r="8.15"/><circle cx="1517.3" cy="1524.8" r="8.15"/><circle cx="1520.5" cy="1522.6" r="8.15"/><circle cx="1520.9" cy="1522.1" r="8.15"/><circle cx="1522.3" cy="1520.7" r="8.15"/><circle cx="1522.7" cy="1520.3" r="8.15"/><circle cx="1523.9" cy="1519.7" r="8.15"/><circle cx="1524.3" cy="1519.2" r="8.15"/><circle cx="1524.8" cy="1518.7" r="8.15"/><circle cx="1525.8" cy="1518.0" r="8.15"/><circle cx="1529.0" cy="1515.6" r="8.15"/><circle cx="1529.5" cy="1515.1" r="8.15"/><circle cx="1530.0" cy="1514.7" r="8.15"/><circle cx="1531.7" cy="1513.4" r="8.15"/><circle cx="1532.2" cy="1513.0" r="8.15"/><circle cx="1532.7" cy="1512.4" r="8.15"/><circle cx="1535.1" cy="1510.9" r="8.15"/><circle cx="1536.8" cy="1508.9" r="8.15"/><circle cx="1537.3" cy="1508.3" r="8.15"/><circle cx="1539.9" cy="1504.6" r="8.15"/><circle cx="1541.1" cy="1504.0" r="8.15"/><circle cx="1542.1" cy="1502.9" r="8.15"/><circle cx="1542.6" cy="1502.4" r="8.15"/><circle cx="1543.6" cy="1501.0" r="8.15"/><circle cx="1544.2" cy="1500.1" r="8.15"/><circle cx="1544.7" cy="1499.8" r="8.15"/><circle cx="1545.7" cy="1499.0" r="8.15"/><circle cx="1547.1" cy="1496.9" r="8.15"/><circle cx="1547.7" cy="1496.2" r="8.15"/><circle cx="1548.7" cy="1495.1" r="8.15"/><circle cx="1550.0" cy="1493.5" r="8.15"/><circle cx="1551.1" cy="1492.6" r="8.15"/><circle cx="1552.6" cy="1490.9" r="8.15"/><circle cx="1553.2" cy="1490.6" r="8.15"/><circle cx="1553.8" cy="1490.2" r="8.15"/><circle cx="1554.4" cy="1489.8" r="8.15"/><circle cx="1555.0" cy="1489.3" r="8.15"/><circle cx="1558.3" cy="1486.0" r="8.15"/><circle cx="1558.9" cy="1485.5" r="8.15"/><circle cx="1560.9" cy="1482.8" r="8.15"/><circle cx="1565.1" cy="1478.3" r="8.15"/><circle cx="1566.3" cy="1477.7" r="8.15"/>
</g>
<g class="pt" fill="#000" stroke="#000" stroke-width="3.79" fill-opacity="0.9688" stroke-opacity="0.9688">
<circle cx="694.7" cy="1674.8" r="8.15"/><circle cx="697.7" cy="1673.8" r="8.15"/><circle cx="698.4" cy="1673.7" r="8.15"/><circle cx="699.7" cy="1673.3" r="8.15"/><circle cx="702.1" cy="1672.2" r="8.15"/><circle cx="702.8" cy="1672.1" r="8.15"/><circle cx="704.0" cy="1671.6" r="8.15"/><circle cx="704.7" cy="1671.4" r="8.15"/><circle cx="705.3" cy="1671.2" r="8.15"/><circle cx="706.0" cy="1671.1" r="8.15"/><circle cx="706.7" cy="1670.9" r="8.15"/><circle cx="707.3" cy="1670.8" r="8.15"/><circle cx="708.0" cy="1670.6" r="8.15"/><circle cx="708.6" cy="1670.4" r="8.15"/><circle cx="709.3" cy="1670.2" r="8.15"/><circle cx="709.9" cy="1670.1" r="8.15"/><circle cx="710.5" cy="1669.9" r="8.15"/><circle cx="711.2" cy="1669.7" r="8.15"/><circle cx="711.8" cy="1669.7" r="8.15"/><circle cx="712.4" cy="1669.5" r="8.15"/><circle cx="713.0" cy="1669.3" r="8.15"/><circle cx="713.7" cy="1669.0" r="8.15"/><circle cx="714.3" cy="1668.8" r="8.15"/><circle cx="714.9" cy="1668.7" r="8.15"/><circle cx="715.5" cy="1668.6" r="8.15"/><circle cx="716.1" cy="1668.6" r="8.15"/><circle cx="716.7" cy="1668.4" r="8.15"/><circle cx="717.3" cy="1668.2" r="8.15"/><circle cx="717.9" cy="1668.0" r="8.15"/><circle cx="718.5" cy="1667.9" r="8.15"/><circle cx="719.1" cy="1667.7" r="8.15"/><circle cx="719.7" cy="1667.6" r="8.15"/><circle cx="724.1" cy="1666.1" r="8.15"/><circle cx="1498.3" cy="1538.3" r="8.15"/><circle cx="1499.4" cy="1537.6" r="8.15"/><circle cx="1501.6" cy="1536.1" r="8.15"/><circle cx="1502.1" cy="1535.6" r="8.15"/><circle cx="1507.0" cy="1531.8" r="8.15"/><circle cx="1508.7" cy="1530.8" r="8.15"/><circle cx="1509.8" cy="1529.9" r="8.15"/><circle cx="1511.5" cy="1528.8" r="8.15"/><circle cx="1512.0" cy="1528.5" r="8.15"/><circle cx="1512.6" cy="1528.1" r="8.15"/><circle cx="1515.4" cy="1526.7" r="8.15"/><circle cx="1515.9" cy="1526.3" r="8.15"/><circle cx="1516.5" cy="1525.9" r="8.15"/><circle cx="1517.8" cy="1524.3" r="8.15"/><circle cx="1518.3" cy="1523.9" r="8.15"/><circle cx="1518.9" cy="1523.5" r="8.15"/><circle cx="1519.4" cy="1523.3" r="8.15"/><circle cx="1520.0" cy="1522.9" r="8.15"/><circle cx="1521.7" cy="1521.1" r="8.15"/><circle cx="1525.3" cy="1518.2" r="8.15"/><circle cx="1526.4" cy="1517.5" r="8.15"/><circle cx="1526.9" cy="1517.2" r="8.15"/><circle cx="1527.9" cy="1516.2" r="8.15"/><circle cx="1528.5" cy="1516.0" r="8.15"/><circle cx="1530.6" cy="1514.2" r="8.15"/><circle cx="1531.2" cy="1513.8" r="8.15"/><circle cx="1533.3" cy="1512.1" r="8.15"/><circle cx="1533.9" cy="1511.8" r="8.15"/><circle cx="1534.5" cy="1511.4" r="8.15"/><circle cx="1538.5" cy="1506.0" r="8.15"/><circle cx="1540.5" cy="1504.2" r="8.15"/>
</g>
<g class="pt" fill="#000" stroke="#000" stroke-width="3.82" fill-opacity="0.9844" stroke-opacity="0.9844">
<circle cx="720.8" cy="1666.9" r="8.15"/><circle cx="721.5" cy="1666.7" r="8.15"/><circle cx="722.1" cy="1666.6" r="8.15"/><circle cx="722.8" cy="1666.4" r="8.15"/><circle cx="723.5" cy="1666.3" r="8.15"/><circle cx="724.7" cy="1665.9" r="8.15"/><circle cx="725.4" cy="1665.7" r="8.15"/><circle cx="726.1" cy="1665.5" r="8.15"/><circle cx="726.7" cy="1665.4" r="8.15"/><circle cx="727.4" cy="1665.3" r="8.15"/><circle cx="728.0" cy="1665.1" r="8.15"/><circle cx="728.7" cy="1664.9" r="8.15"/><circle cx="729.3" cy="1664.8" r="8.15"/><circle cx="730.0" cy="1664.7" r="8.15"/><circle cx="730.6" cy="1664.6" r="8.15"/><circle cx="731.2" cy="1664.4" r="8.15"/><circle cx="731.9" cy="1664.2" r="8.15"/><circle cx="732.5" cy="1664.1" r="8.15"/><circle cx="733.1" cy="1663.9" r="8.15"/><circle cx="733.7" cy="1663.7" r="8.15"/><circle cx="734.3" cy="1663.6" r="8.15"/><circle cx="735.0" cy="1663.4" r="8.15"/><circle cx="735.6" cy="1663.3" r="8.15"/><circle cx="736.2" cy="1663.0" r="8.15"/><circle cx="736.8" cy="1662.9" r="8.15"/><circle cx="737.4" cy="1662.8" r="8.15"/><circle cx="738.0" cy="1662.6" r="8.15"/><circle cx="738.6" cy="1662.3" r="8.15"/><circle cx="739.1" cy="1662.1" r="8.15"/><circle cx="739.7" cy="1662.0" r="8.15"/><circle cx="740.3" cy="1661.8" r="8.15"/><circle cx="742.9" cy="1661.2" r="8.15"/><circle cx="1478.3" cy="1549.1" r="8.15"/><circle cx="1481.7" cy="1547.6" r="8.15"/><circle cx="1484.5" cy="1545.9" r="8.15"/><circle cx="1492.6" cy="1541.9" r="8.15"/><circle cx="1494.4" cy="1541.2" r="8.15"/><circle cx="1494.9" cy="1540.7" r="8.15"/><circle cx="1495.5" cy="1540.3" r="8.15"/><circle cx="1496.0" cy="1539.9" r="8.15"/><circle cx="1496.6" cy="1539.4" r="8.15"/><circle cx="1499.9" cy="1537.3" r="8.15"/><circle cx="1500.5" cy="1537.0" r="8.15"/><circle cx="1501.1" cy="1536.5" r="8.15"/><circle cx="1502.8" cy="1534.6" r="8.15"/><circle cx="1503.3" cy="1534.2" r="8.15"/><circle cx="1503.9" cy="1533.9" r="8.15"/><circle cx="1504.5" cy="1533.6" r="8.15"/><circle cx="1505.1" cy="1533.4" r="8.15"/><circle cx="1505.7" cy="1533.1" r="8.15"/><circle cx="1507.5" cy="1531.4" r="8.15"/><circle cx="1508.1" cy="1531.1" r="8.15"/><circle cx="1509.2" cy="1530.3" r="8.15"/><circle cx="1510.3" cy="1529.6" r="8.15"/><circle cx="1511.0" cy="1529.2" r="8.15"/><circle cx="1513.1" cy="1527.8" r="8.15"/><circle cx="1513.8" cy="1527.6" r="8.15"/><circle cx="1514.4" cy="1527.3" r="8.15"/><circle cx="1523.3" cy="1519.9" r="8.15"/>
</g>
<g class="pt" fill="#000" stroke="#000" stroke-width="3.84" fill-opacity="0.9922" stroke-opacity="0.9922">
<circle cx="740.9" cy="1661.7" r="8.15"/><circle cx="741.6" cy="1661.5" r="8.15"/><circle cx="742.3" cy="1661.3" r="8.15"/><circle cx="743.5" cy="1660.9" r="8.15"/><circle cx="744.2" cy="1660.7" r="8.15"/><circle cx="744.8" cy="1660.6" r="8.15"/><circle cx="745.5" cy="1660.4" r="8.15"/><circle cx="746.1" cy="1660.3" r="8.15"/><circle cx="746.8" cy="1660.2" r="8.15"/><circle cx="747.4" cy="1660.0" r="8.15"/><circle cx="748.1" cy="1659.9" r="8.15"/><circle cx="748.7" cy="1659.7" r="8.15"/><circle cx="749.3" cy="1659.6" r="8.15"/><circle cx="750.0" cy="1659.5" r="8.15"/><circle cx="750.6" cy="1659.3" r="8.15"/><circle cx="751.2" cy="1659.1" r="8.15"/><circle cx="751.8" cy="1658.8" r="8.15"/><circle cx="752.4" cy="1658.6" r="8.15"/><circle cx="753.0" cy="1658.4" r="8.15"/><circle cx="753.6" cy="1658.2" r="8.15"/><circle cx="754.2" cy="1657.9" r="8.15"/><circle cx="754.8" cy="1657.7" r="8.15"/><circle cx="755.4" cy="1657.6" r="8.15"/><circle cx="756.0" cy="1657.5" r="8.15"/><circle cx="756.6" cy="1657.3" r="8.15"/><circle cx="758.6" cy="1656.9" r="8.15"/><circle cx="761.8" cy="1656.2" r="8.15"/><circle cx="1463.9" cy="1556.3" r="8.15"/><circle cx="1468.6" cy="1554.3" r="8.15"/><circle cx="1470.8" cy="1553.4" r="8.15"/><circle cx="1474.9" cy="1551.4" r="8.15"/><circle cx="1475.5" cy="1550.9" r="8.15"/><circle cx="1476.6" cy="1550.2" r="8.15"/><circle cx="1477.1" cy="1549.7" r="8.15"/><circle cx="1479.4" cy="1548.6" r="8.15"/><circle cx="1479.9" cy="1548.3" r="8.15"/><circle cx="1482.2" cy="1547.2" r="8.15"/><circle cx="1482.8" cy="1547.0" r="8.15"/><circle cx="1483.4" cy="1546.6" r="8.15"/><circle cx="1483.9" cy="1546.3" r="8.15"/><circle cx="1485.0" cy="1545.6" r="8.15"/><circle cx="1485.6" cy="1545.3" r="8.15"/><circle cx="1486.1" cy="1545.0" r="8.15"/><circle cx="1486.7" cy="1544.6" r="8.15"/><circle cx="1487.3" cy="1544.3" r="8.15"/><circle cx="1487.9" cy="1544.0" r="8.15"/><circle cx="1488.5" cy="1543.8" r="8.15"/><circle cx="1489.1" cy="1543.6" r="8.15"/><circle cx="1489.7" cy="1543.3" r="8.15"/><circle cx="1490.3" cy="1542.9" r="8.15"/><circle cx="1490.9" cy="1542.7" r="8.15"/><circle cx="1491.5" cy="1542.5" r="8.15"/><circle cx="1492.1" cy="1542.2" r="8.15"/><circle cx="1493.2" cy="1541.7" r="8.15"/><circle cx="1493.8" cy="1541.4" r="8.15"/><circle cx="1497.1" cy="1539.1" r="8.15"/><circle cx="1497.8" cy="1538.8" r="8.15"/><circle cx="1498.9" cy="1537.9" r="8.15"/>
</g>
<g class="pt" fill="#000" stroke="#000" stroke-width="3.84" fill-opacity="1" stroke-opacity="1">
<circle cx="757.3" cy="1657.2" r="8.15"/><circle cx="757.9" cy="1657.0" r="8.15"/><circle cx="759.2" cy="1656.8" r="8.15"/><circle cx="759.8" cy="1656.6" r="8.15"/><circle cx="760.5" cy="1656.5" r="8.15"/><circle cx="761.2" cy="1656.3" r="8.15"/><circle cx="762.4" cy="1655.9" r="8.15"/><circle cx="763.0" cy="1655.8" r="8.15"/><circle cx="763.6" cy="1655.6" r="8.15"/><circle cx="764.3" cy="1655.5" r="8.15"/><circle cx="764.9" cy="1655.3" r="8.15"/><circle cx="765.5" cy="1655.2" r="8.15"/><circle cx="766.2" cy="1655.1" r="8.15"/><circle cx="766.8" cy="1654.9" r="8.15"/><circle cx="767.4" cy="1654.7" r="8.15"/><circle cx="768.0" cy="1654.5" r="8.15"/><circle cx="768.6" cy="1654.4" r="8.15"/><circle cx="769.3" cy="1654.3" r="8.15"/><circle cx="769.9" cy="1654.2" r="8.15"/><circle cx="770.5" cy="1653.9" r="8.15"/><circle cx="771.1" cy="1653.8" r="8.15"/><circle cx="771.7" cy="1653.5" r="8.15"/><circle cx="772.3" cy="1653.4" r="8.15"/><circle cx="772.9" cy="1653.2" r="8.15"/><circle cx="773.5" cy="1653.1" r="8.15"/><circle cx="774.1" cy="1652.9" r="8.15"/><circle cx="774.8" cy="1652.7" r="8.15"/><circle cx="775.4" cy="1652.5" r="8.15"/><circle cx="776.0" cy="1652.4" r="8.15"/><circle cx="776.7" cy="1652.2" r="8.15"/><circle cx="777.3" cy="1652.1" r="8.15"/><circle cx="778.0" cy="1652.0" r="8.15"/><circle cx="778.6" cy="1651.8" r="8.15"/><circle cx="779.2" cy="1651.6" r="8.15"/><circle cx="779.8" cy="1651.4" r="8.15"/><circle cx="780.4" cy="1651.3" r="8.15"/><circle cx="781.1" cy="1651.1" r="8.15"/><circle cx="781.7" cy="1651.0" r="8.15"/><circle cx="782.3" cy="1650.9" r="8.15"/><circle cx="782.9" cy="1650.7" r="8.15"/><circle cx="783.5" cy="1650.5" r="8.15"/><circle cx="784.1" cy="1650.4" r="8.15"/><circle cx="784.7" cy="1650.2" r="8.15"/><circle cx="785.4" cy="1650.1" r="8.15"/><circle cx="786.0" cy="1649.9" r="8.15"/><circle cx="786.6" cy="1649.8" r="8.15"/><circle cx="787.2" cy="1649.7" r="8.15"/><circle cx="787.7" cy="1649.5" r="8.15"/><circle cx="788.3" cy="1649.3" r="8.15"/><circle cx="788.9" cy="1649.1" r="8.15"/><circle cx="789.5" cy="1648.9" r="8.15"/><circle cx="790.2" cy="1648.8" r="8.15"/><circle cx="790.8" cy="1648.6" r="8.15"/><circle cx="791.4" cy="1648.4" r="8.15"/><circle cx="792.0" cy="1648.3" r="8.15"/><circle cx="792.6" cy="1648.2" r="8.15"/><circle cx="793.3" cy="1648.1" r="8.15"/><circle cx="793.9" cy="1648.0" r="8.15"/><circle cx="794.5" cy="1647.8" r="8.15"/><circle cx="795.1" cy="1647.7" r="8.15"/><circle cx="795.8" cy="1647.6" r="8.15"/><circle cx="796.4" cy="1647.4" r="8.15"/><circle cx="797.0" cy="1647.2" r="8.15"/><circle cx="797.6" cy="1647.0" r="8.15"/><circle cx="798.2" cy="1646.8" r="8.15"/><circle cx="798.8" cy="1646.6" r="8.15"/><circle cx="799.4" cy="1646.4" r="8.15"/><circle cx="800.0" cy="1646.2" r="8.15"/><circle cx="800.6" cy="1646.1" r="8.15"/><circle cx="801.2" cy="1646.0" r="8.15"/><circle cx="801.8" cy="1645.9" r="8.15"/><circle cx="802.4" cy="1645.7" r="8.15"/><circle cx="802.9" cy="1645.6" r="8.15"/><circle cx="803.6" cy="1645.4" r="8.15"/><circle cx="804.2" cy="1645.3" r="8.15"/><circle cx="804.8" cy="1645.1" r="8.15"/><circle cx="805.4" cy="1645.0" r="8.15"/><circle cx="806.1" cy="1644.9" r="8.15"/><circle cx="806.7" cy="1644.7" r="8.15"/><circle cx="807.3" cy="1644.6" r="8.15"/><circle cx="807.9" cy="1644.4" r="8.15"/><circle cx="808.6" cy="1644.2" r="8.15"/><circle cx="809.2" cy="1644.0" r="8.15"/><circle cx="809.8" cy="1643.9" r="8.15"/><circle cx="810.4" cy="1643.8" r="8.15"/><circle cx="811.0" cy="1643.7" r="8.15"/><circle cx="811.6" cy="1643.6" r="8.15"/><circle cx="812.2" cy="1643.5" r="8.15"/><circle cx="812.8" cy="1643.3" r="8.15"/><circle cx="813.4" cy="1643.2" r="8.15"/><circle cx="814.0" cy="1643.1" r="8.15"/><circle cx="814.6" cy="1642.9" r="8.15"/><circle cx="815.2" cy="1642.8" r="8.15"/><circle cx="815.9" cy="1642.6" r="8.15"/><circle cx="816.5" cy="1642.5" r="8.15"/><circle cx="817.1" cy="1642.4" r="8.15"/><circle cx="817.7" cy="1642.2" r="8.15"/><circle cx="818.3" cy="1642.1" r="8.15"/><circle cx="818.9" cy="1641.9" r="8.15"/><circle cx="819.5" cy="1641.7" r="8.15"/><circle cx="820.1" cy="1641.6" r="8.15"/><circle cx="820.7" cy="1641.4" r="8.15"/><circle cx="821.3" cy="1641.2" r="8.15"/><circle cx="821.9" cy="1641.0" r="8.15"/><circle cx="822.6" cy="1640.9" r="8.15"/><circle cx="823.2" cy="1640.8" r="8.15"/><circle cx="823.8" cy="1640.6" r="8.15"/><circle cx="824.4" cy="1640.5" r="8.15"/><circle cx="825.0" cy="1640.4" r="8.15"/><circle cx="825.6" cy="1640.3" r="8.15"/><circle cx="826.2" cy="1640.2" r="8.15"/><circle cx="826.8" cy="1640.1" r="8.15"/><circle cx="827.4" cy="1639.9" r="8.15"/><circle cx="828.0" cy="1639.8" r="8.15"/><circle cx="828.6" cy="1639.7" r="8.15"/><circle cx="829.2" cy="1639.5" r="8.15"/><circle cx="829.8" cy="1639.4" r="8.15"/><circle cx="830.4" cy="1639.2" r="8.15"/><circle cx="831.0" cy="1639.1" r="8.15"/><circle cx="831.7" cy="1638.9" r="8.15"/><circle cx="832.3" cy="1638.8" r="8.15"/><circle cx="832.9" cy="1638.6" r="8.15"/><circle cx="833.5" cy="1638.4" r="8.15"/><circle cx="834.1" cy="1638.3" r="8.15"/><circle cx="834.7" cy="1638.2" r="8.15"/><circle cx="835.3" cy="1638.0" r="8.15"/><circle cx="835.9" cy="1637.7" r="8.15"/><circle cx="836.6" cy="1637.6" r="8.15"/><circle cx="837.2" cy="1637.5" r="8.15"/><circle cx="837.8" cy="1637.3" r="8.15"/><circle cx="838.4" cy="1637.2" r="8.15"/><circle cx="839.0" cy="1637.0" r="8.15"/><circle cx="839.6" cy="1636.9" r="8.15"/><circle cx="840.1" cy="1636.7" r="8.15"/><circle cx="840.8" cy="1636.6" r="8.15"/><circle cx="841.4" cy="1636.5" r="8.15"/><circle cx="842.0" cy="1636.4" r="8.15"/><circle cx="842.6" cy="1636.3" r="8.15"/><circle cx="843.2" cy="1636.2" r="8.15"/><circle cx="843.8" cy="1636.1" r="8.15"/><circle cx="844.4" cy="1636.0" r="8.15"/><circle cx="845.1" cy="1635.8" r="8.15"/><circle cx="845.7" cy="1635.7" r="8.15"/><circle cx="846.3" cy="1635.5" r="8.15"/><circle cx="846.9" cy="1635.3" r="8.15"/><circle cx="847.5" cy="1635.2" r="8.15"/><circle cx="848.1" cy="1635.0" r="8.15"/><circle cx="848.7" cy="1634.9" r="8.15"/><circle cx="849.3" cy="1634.8" r="8.15"/><circle cx="849.9" cy="1634.6" r="8.15"/><circle cx="850.5" cy="1634.5" r="8.15"/><circle cx="851.1" cy="1634.4" r="8.15"/><circle cx="851.7" cy="1634.2" r="8.15"/><circle cx="852.3" cy="1634.1" r="8.15"/><circle cx="852.9" cy="1633.9" r="8.15"/><circle cx="853.5" cy="1633.8" r="8.15"/><circle cx="854.1" cy="1633.6" r="8.15"/><circle cx="854.7" cy="1633.5" r="8.15"/><circle cx="855.3" cy="1633.4" r="8.15"/><circle cx="855.9" cy="1633.2" r="8.15"/><circle cx="856.5" cy="1633.0" r="8.15"/><circle cx="857.1" cy="1632.9" r="8.15"/><circle cx="857.7" cy="1632.8" r="8.15"/><circle cx="858.3" cy="1632.6" r="8.15"/><circle cx="858.9" cy="1632.4" r="8.15"/><circle cx="859.5" cy="1632.2" r="8.15"/><circle cx="860.1" cy="1632.1" r="8.15"/><circle cx="860.7" cy="1632.0" r="8.15"/><circle cx="861.3" cy="1631.9" r="8.15"/><circle cx="861.9" cy="1631.8" r="8.15"/><circle cx="862.5" cy="1631.8" r="8.15"/><circle cx="863.1" cy="1631.7" r="8.15"/><circle cx="863.7" cy="1631.5" r="8.15"/><circle cx="864.3" cy="1631.4" r="8.15"/><circle cx="864.9" cy="1631.3" r="8.15"/><circle cx="865.6" cy="1631.2" r="8.15"/><circle cx="866.2" cy="1631.1" r="8.15"/><circle cx="866.8" cy="1631.0" r="8.15"/><circle cx="867.4" cy="1630.8" r="8.15"/><circle cx="868.0" cy="1630.8" r="8.15"/><circle cx="868.7" cy="1630.6" r="8.15"/><circle cx="869.3" cy="1630.5" r="8.15"/><circle cx="869.9" cy="1630.4" r="8.15"/><circle cx="870.5" cy="1630.2" r="8.15"/><circle cx="871.1" cy="1630.1" r="8.15"/><circle cx="871.7" cy="1629.9" r="8.15"/><circle cx="872.3" cy="1629.8" r="8.15"/><circle cx="872.9" cy="1629.7" r="8.15"/><circle cx="873.5" cy="1629.6" r="8.15"/><circle cx="874.1" cy="1629.6" r="8.15"/><circle cx="874.7" cy="1629.4" r="8.15"/><circle cx="875.3" cy="1629.3" r="8.15"/><circle cx="875.9" cy="1629.2" r="8.15"/><circle cx="876.6" cy="1629.1" r="8.15"/><circle cx="877.2" cy="1629.0" r="8.15"/><circle cx="877.8" cy="1628.9" r="8.15"/><circle cx="878.4" cy="1628.8" r="8.15"/><circle cx="879.0" cy="1628.6" r="8.15"/><circle cx="879.7" cy="1628.5" r="8.15"/><circle cx="880.3" cy="1628.4" r="8.15"/><circle cx="880.9" cy="1628.3" r="8.15"/><circle cx="881.5" cy="1628.2" r="8.15"/><circle cx="882.1" cy="1628.1" r="8.15"/><circle cx="882.7" cy="1628.0" r="8.15"/><circle cx="883.3" cy="1627.9" r="8.15"/><circle cx="883.9" cy="1627.8" r="8.15"/><circle cx="884.5" cy="1627.6" r="8.15"/><circle cx="885.1" cy="1627.5" r="8.15"/><circle cx="885.7" cy="1627.4" r="8.15"/><circle cx="886.3" cy="1627.3" r="8.15"/><circle cx="886.9" cy="1627.2" r="8.15"/><circle cx="887.5" cy="1627.1" r="8.15"/><circle cx="888.1" cy="1627.0" r="8.15"/><circle cx="888.8" cy="1626.9" r="8.15"/><circle cx="889.4" cy="1626.8" r="8.15"/><circle cx="890.0" cy="1626.7" r="8.15"/><circle cx="890.6" cy="1626.6" r="8.15"/><circle cx="891.2" cy="1626.5" r="8.15"/><circle cx="891.8" cy="1626.4" r="8.15"/><circle cx="892.4" cy="1626.2" r="8.15"/><circle cx="893.0" cy="1626.1" r="8.15"/><circle cx="893.6" cy="1626.0" r="8.15"/><circle cx="894.2" cy="1625.9" r="8.15"/><circle cx="894.8" cy="1625.8" r="8.15"/><circle cx="895.4" cy="1625.7" r="8.15"/><circle cx="896.0" cy="1625.6" r="8.15"/><circle cx="896.6" cy="1625.5" r="8.15"/><circle cx="897.2" cy="1625.4" r="8.15"/><circle cx="897.8" cy="1625.3" r="8.15"/><circle cx="898.4" cy="1625.2" r="8.15"/><circle cx="899.1" cy="1625.1" r="8.15"/><circle cx="899.6" cy="1624.9" r="8.15"/><circle cx="900.3" cy="1624.8" r="8.15"/><circle cx="900.9" cy="1624.7" r="8.15"/><circle cx="901.5" cy="1624.6" r="8.15"/><circle cx="902.1" cy="1624.5" r="8.15"/><circle cx="902.7" cy="1624.3" r="8.15"/><circle cx="903.3" cy="1624.2" r="8.15"/><circle cx="903.9" cy="1624.1" r="8.15"/><circle cx="904.5" cy="1624.0" r="8.15"/><circle cx="905.1" cy="1623.9" r="8.15"/><circle cx="905.7" cy="1623.8" r="8.15"/><circle cx="906.3" cy="1623.7" r="8.15"/><circle cx="906.9" cy="1623.6" r="8.15"/><circle cx="907.5" cy="1623.5" r="8.15"/><circle cx="908.1" cy="1623.4" r="8.15"/><circle cx="908.7" cy="1623.3" r="8.15"/><circle cx="909.3" cy="1623.1" r="8.15"/><circle cx="909.9" cy="1623.0" r="8.15"/><circle cx="910.5" cy="1622.9" r="8.15"/><circle cx="911.1" cy="1622.8" r="8.15"/><circle cx="911.7" cy="1622.7" r="8.15"/><circle cx="912.4" cy="1622.6" r="8.15"/><circle cx="913.0" cy="1622.5" r="8.15"/><circle cx="913.6" cy="1622.4" r="8.15"/><circle cx="914.2" cy="1622.3" r="8.15"/><circle cx="914.8" cy="1622.2" r="8.15"/><circle cx="915.4" cy="1622.1" r="8.15"/><circle cx="916.0" cy="1622.0" r="8.15"/><circle cx="916.6" cy="1621.9" r="8.15"/><circle cx="917.2" cy="1621.8" r="8.15"/><circle cx="917.8" cy="1621.7" r="8.15"/><circle cx="918.4" cy="1621.6" r="8.15"/><circle cx="919.0" cy="1621.5" r="8.15"/><circle cx="919.6" cy="1621.4" r="8.15"/><circle cx="920.2" cy="1621.3" r="8.15"/><circle cx="920.9" cy="1621.2" r="8.15"/><circle cx="921.5" cy="1621.1" r="8.15"/><circle cx="922.1" cy="1621.0" r="8.15"/><circle cx="922.7" cy="1620.8" r="8.15"/><circle cx="923.3" cy="1620.7" r="8.15"/><circle cx="923.9" cy="1620.6" r="8.15"/><circle cx="924.5" cy="1620.4" r="8.15"/><circle cx="925.1" cy="1620.3" r="8.15"/><circle cx="925.7" cy="1620.3" r="8.15"/><circle cx="926.3" cy="1620.2" r="8.15"/><circle cx="926.9" cy="1620.1" r="8.15"/><circle cx="927.5" cy="1620.0" r="8.15"/><circle cx="928.1" cy="1619.8" r="8.15"/><circle cx="928.7" cy="1619.7" r="8.15"/><circle cx="929.2" cy="1619.6" r="8.15"/><circle cx="929.9" cy="1619.5" r="8.15"/><circle cx="930.5" cy="1619.4" r="8.15"/><circle cx="931.1" cy="1619.3" r="8.15"/><circle cx="931.7" cy="1619.2" r="8.15"/><circle cx="932.3" cy="1619.0" r="8.15"/><circle cx="932.9" cy="1619.0" r="8.15"/><circle cx="933.5" cy="1618.9" r="8.15"/><circle cx="934.1" cy="1618.8" r="8.15"/><circle cx="934.7" cy="1618.6" r="8.15"/><circle cx="935.3" cy="1618.5" r="8.15"/><circle cx="935.9" cy="1618.4" r="8.15"/><circle cx="936.5" cy="1618.3" r="8.15"/><circle cx="937.1" cy="1618.2" r="8.15"/><circle cx="937.7" cy="1618.1" r="8.15"/><circle cx="938.3" cy="1618.0" r="8.15"/><circle cx="938.9" cy="1617.9" r="8.15"/><circle cx="939.5" cy="1617.8" r="8.15"/><circle cx="940.1" cy="1617.7" r="8.15"/><circle cx="940.7" cy="1617.6" r="8.15"/><circle cx="941.3" cy="1617.5" r="8.15"/><circle cx="941.9" cy="1617.4" r="8.15"/><circle cx="942.5" cy="1617.3" r="8.15"/><circle cx="943.2" cy="1617.2" r="8.15"/><circle cx="943.8" cy="1617.1" r="8.15"/><circle cx="944.4" cy="1617.0" r="8.15"/><circle cx="945.0" cy="1616.8" r="8.15"/><circle cx="945.6" cy="1616.7" r="8.15"/><circle cx="946.2" cy="1616.6" r="8.15"/><circle cx="946.8" cy="1616.5" r="8.15"/><circle cx="947.4" cy="1616.5" r="8.15"/><circle cx="948.0" cy="1616.4" r="8.15"/><circle cx="948.6" cy="1616.3" r="8.15"/><circle cx="949.2" cy="1616.1" r="8.15"/><circle cx="949.8" cy="1616.0" r="8.15"/><circle cx="950.4" cy="1615.9" r="8.15"/><circle cx="951.0" cy="1615.8" r="8.15"/><circle cx="951.6" cy="1615.7" r="8.15"/><circle cx="952.2" cy="1615.6" r="8.15"/><circle cx="952.8" cy="1615.5" r="8.15"/><circle cx="953.4" cy="1615.3" r="8.15"/><circle cx="954.0" cy="1615.2" r="8.15"/><circle cx="954.6" cy="1615.1" r="8.15"/><circle cx="955.2" cy="1615.0" r="8.15"/><circle cx="955.8" cy="1614.9" r="8.15"/><circle cx="956.4" cy="1614.8" r="8.15"/><circle cx="957.0" cy="1614.7" r="8.15"/><circle cx="957.6" cy="1614.6" r="8.15"/><circle cx="958.2" cy="1614.5" r="8.15"/><circle cx="958.8" cy="1614.4" r="8.15"/><circle cx="959.4" cy="1614.3" r="8.15"/><circle cx="960.0" cy="1614.3" r="8.15"/><circle cx="960.6" cy="1614.1" r="8.15"/><circle cx="961.2" cy="1614.1" r="8.15"/><circle cx="961.9" cy="1614.0" r="8.15"/><circle cx="962.5" cy="1613.9" r="8.15"/><circle cx="963.1" cy="1613.8" r="8.15"/><circle cx="963.7" cy="1613.7" r="8.15"/><circle cx="964.3" cy="1613.6" r="8.15"/><circle cx="964.9" cy="1613.5" r="8.15"/><circle cx="965.5" cy="1613.4" r="8.15"/><circle cx="966.1" cy="1613.3" r="8.15"/><circle cx="966.7" cy="1613.2" r="8.15"/><circle cx="967.3" cy="1613.1" r="8.15"/><circle cx="967.9" cy="1613.0" r="8.15"/><circle cx="968.5" cy="1612.9" r="8.15"/><circle cx="969.1" cy="1612.8" r="8.15"/><circle cx="969.7" cy="1612.7" r="8.15"/><circle cx="970.3" cy="1612.6" r="8.15"/><circle cx="971.0" cy="1612.6" r="8.15"/><circle cx="971.6" cy="1612.5" r="8.15"/><circle cx="972.2" cy="1612.4" r="8.15"/><circle cx="972.8" cy="1612.3" r="8.15"/><circle cx="973.4" cy="1612.2" r="8.15"/><circle cx="974.0" cy="1612.1" r="8.15"/><circle cx="974.6" cy="1612.0" r="8.15"/><circle cx="975.2" cy="1612.0" r="8.15"/><circle cx="975.8" cy="1611.9" r="8.15"/><circle cx="976.4" cy="1611.8" r="8.15"/><circle cx="977.0" cy="1611.7" r="8.15"/><circle cx="977.6" cy="1611.6" r="8.15"/><circle cx="978.2" cy="1611.5" r="8.15"/><circle cx="978.8" cy="1611.4" r="8.15"/><circle cx="979.4" cy="1611.3" r="8.15"/><circle cx="980.0" cy="1611.1" r="8.15"/><circle cx="980.6" cy="1611.1" r="8.15"/><circle cx="981.2" cy="1611.0" r="8.15"/><circle cx="981.8" cy="1610.9" r="8.15"/><circle cx="982.4" cy="1610.8" r="8.15"/><circle cx="983.0" cy="1610.7" r="8.15"/><circle cx="983.6" cy="1610.6" r="8.15"/><circle cx="984.2" cy="1610.5" r="8.15"/><circle cx="984.8" cy="1610.4" r="8.15"/><circle cx="985.4" cy="1610.3" r="8.15"/><circle cx="986.0" cy="1610.3" r="8.15"/><circle cx="986.6" cy="1610.2" r="8.15"/><circle cx="987.2" cy="1610.1" r="8.15"/><circle cx="987.9" cy="1610.0" r="8.15"/><circle cx="988.5" cy="1609.9" r="8.15"/><circle cx="989.1" cy="1609.8" r="8.15"/><circle cx="989.7" cy="1609.7" r="8.15"/><circle cx="990.3" cy="1609.7" r="8.15"/><circle cx="990.9" cy="1609.6" r="8.15"/><circle cx="991.5" cy="1609.5" r="8.15"/><circle cx="992.1" cy="1609.4" r="8.15"/><circle cx="992.7" cy="1609.2" r="8.15"/><circle cx="993.3" cy="1609.1" r="8.15"/><circle cx="993.9" cy="1609.0" r="8.15"/><circle cx="994.5" cy="1608.9" r="8.15"/><circle cx="995.1" cy="1608.8" r="8.15"/><circle cx="995.7" cy="1608.7" r="8.15"/><circle cx="996.3" cy="1608.6" r="8.15"/><circle cx="996.9" cy="1608.5" r="8.15"/><circle cx="997.5" cy="1608.4" r="8.15"/><circle cx="998.1" cy="1608.4" r="8.15"/><circle cx="998.7" cy="1608.3" r="8.15"/><circle cx="999.3" cy="1608.2" r="8.15"/><circle cx="999.9" cy="1608.1" r="8.15"/><circle cx="1000.5" cy="1608.0" r="8.15"/><circle cx="1001.1" cy="1608.0" r="8.15"/><circle cx="1001.7" cy="1607.9" r="8.15"/><circle cx="1002.3" cy="1607.8" r="8.15"/><circle cx="1002.9" cy="1607.8" r="8.15"/><circle cx="1003.6" cy="1607.8" r="8.15"/><circle cx="1004.2" cy="1607.7" r="8.15"/><circle cx="1004.8" cy="1607.6" r="8.15"/><circle cx="1005.4" cy="1607.6" r="8.15"/><circle cx="1006.0" cy="1607.5" r="8.15"/><circle cx="1006.6" cy="1607.5" r="8.15"/><circle cx="1007.2" cy="1607.4" r="8.15"/><circle cx="1007.8" cy="1607.4" r="8.15"/><circle cx="1008.4" cy="1607.3" r="8.15"/><circle cx="1009.0" cy="1607.2" r="8.15"/><circle cx="1009.6" cy="1607.2" r="8.15"/><circle cx="1010.2" cy="1607.1" r="8.15"/><circle cx="1010.8" cy="1607.1" r="8.15"/><circle cx="1011.4" cy="1607.0" r="8.15"/><circle cx="1012.1" cy="1607.0" r="8.15"/><circle cx="1012.7" cy="1606.9" r="8.15"/><circle cx="1013.3" cy="1606.8" r="8.15"/><circle cx="1013.9" cy="1606.8" r="8.15"/><circle cx="1014.5" cy="1606.7" r="8.15"/><circle cx="1015.1" cy="1606.7" r="8.15"/><circle cx="1015.7" cy="1606.6" r="8.15"/><circle cx="1016.3" cy="1606.5" r="8.15"/><circle cx="1016.9" cy="1606.5" r="8.15"/><circle cx="1017.5" cy="1606.4" r="8.15"/><circle cx="1018.1" cy="1606.3" r="8.15"/><circle cx="1018.7" cy="1606.3" r="8.15"/><circle cx="1019.3" cy="1606.2" r="8.15"/><circle cx="1019.9" cy="1606.1" r="8.15"/><circle cx="1020.5" cy="1606.1" r="8.15"/><circle cx="1021.1" cy="1606.0" r="8.15"/><circle cx="1021.7" cy="1606.0" r="8.15"/><circle cx="1022.3" cy="1605.9" r="8.15"/><circle cx="1023.0" cy="1605.9" r="8.15"/><circle cx="1023.6" cy="1605.8" r="8.15"/><circle cx="1024.2" cy="1605.8" r="8.15"/><circle cx="1024.8" cy="1605.7" r="8.15"/><circle cx="1025.4" cy="1605.6" r="8.15"/><circle cx="1026.0" cy="1605.6" r="8.15"/><circle cx="1026.6" cy="1605.5" r="8.15"/><circle cx="1027.3" cy="1605.5" r="8.15"/><circle cx="1027.9" cy="1605.4" r="8.15"/><circle cx="1028.5" cy="1605.4" r="8.15"/><circle cx="1029.1" cy="1605.3" r="8.15"/><circle cx="1029.7" cy="1605.2" r="8.15"/><circle cx="1030.3" cy="1605.2" r="8.15"/><circle cx="1030.9" cy="1605.1" r="8.15"/><circle cx="1031.5" cy="1605.1" r="8.15"/><circle cx="1032.1" cy="1605.0" r="8.15"/><circle cx="1032.7" cy="1605.0" r="8.15"/><circle cx="1033.3" cy="1604.9" r="8.15"/><circle cx="1033.9" cy="1604.8" r="8.15"/><circle cx="1034.5" cy="1604.8" r="8.15"/><circle cx="1035.1" cy="1604.7" r="8.15"/><circle cx="1035.7" cy="1604.7" r="8.15"/><circle cx="1036.3" cy="1604.6" r="8.15"/><circle cx="1036.9" cy="1604.5" r="8.15"/><circle cx="1037.5" cy="1604.5" r="8.15"/><circle cx="1038.1" cy="1604.4" r="8.15"/><circle cx="1038.7" cy="1604.4" r="8.15"/><circle cx="1039.3" cy="1604.3" r="8.15"/><circle cx="1040.0" cy="1604.2" r="8.15"/><circle cx="1040.6" cy="1604.2" r="8.15"/><circle cx="1041.2" cy="1604.1" r="8.15"/><circle cx="1041.8" cy="1604.1" r="8.15"/><circle cx="1042.4" cy="1604.0" r="8.15"/><circle cx="1043.0" cy="1603.9" r="8.15"/><circle cx="1043.6" cy="1603.9" r="8.15"/><circle cx="1044.3" cy="1603.8" r="8.15"/><circle cx="1044.9" cy="1603.8" r="8.15"/><circle cx="1045.5" cy="1603.7" r="8.15"/><circle cx="1046.1" cy="1603.7" r="8.15"/><circle cx="1046.7" cy="1603.6" r="8.15"/><circle cx="1047.3" cy="1603.5" r="8.15"/><circle cx="1047.9" cy="1603.4" r="8.15"/><circle cx="1048.5" cy="1603.4" r="8.15"/><circle cx="1049.1" cy="1603.4" r="8.15"/><circle cx="1049.7" cy="1603.3" r="8.15"/><circle cx="1050.3" cy="1603.2" r="8.15"/><circle cx="1050.9" cy="1603.2" r="8.15"/><circle cx="1051.5" cy="1603.1" r="8.15"/><circle cx="1052.1" cy="1603.1" r="8.15"/><circle cx="1052.7" cy="1603.0" r="8.15"/><circle cx="1053.3" cy="1603.0" r="8.15"/><circle cx="1053.9" cy="1602.9" r="8.15"/><circle cx="1054.5" cy="1602.9" r="8.15"/><circle cx="1055.1" cy="1602.8" r="8.15"/><circle cx="1055.7" cy="1602.8" r="8.15"/><circle cx="1056.3" cy="1602.8" r="8.15"/><circle cx="1057.0" cy="1602.7" r="8.15"/><circle cx="1057.6" cy="1602.7" r="8.15"/><circle cx="1058.2" cy="1602.6" r="8.15"/><circle cx="1058.8" cy="1602.6" r="8.15"/><circle cx="1059.4" cy="1602.5" r="8.15"/><circle cx="1060.0" cy="1602.5" r="8.15"/><circle cx="1060.7" cy="1602.4" r="8.15"/><circle cx="1061.3" cy="1602.4" r="8.15"/><circle cx="1061.9" cy="1602.3" r="8.15"/><circle cx="1062.5" cy="1602.3" r="8.15"/><circle cx="1063.1" cy="1602.2" r="8.15"/><circle cx="1063.7" cy="1602.2" r="8.15"/><circle cx="1064.3" cy="1602.1" r="8.15"/><circle cx="1064.9" cy="1602.1" r="8.15"/><circle cx="1065.6" cy="1602.0" r="8.15"/><circle cx="1066.2" cy="1602.0" r="8.15"/><circle cx="1066.8" cy="1602.0" r="8.15"/><circle cx="1067.4" cy="1601.9" r="8.15"/><circle cx="1068.0" cy="1601.9" r="8.15"/><circle cx="1068.6" cy="1601.8" r="8.15"/><circle cx="1069.2" cy="1601.8" r="8.15"/><circle cx="1069.8" cy="1601.7" r="8.15"/><circle cx="1070.4" cy="1601.7" r="8.15"/><circle cx="1071.0" cy="1601.7" r="8.15"/><circle cx="1071.6" cy="1601.6" r="8.15"/><circle cx="1072.2" cy="1601.6" r="8.15"/><circle cx="1072.8" cy="1601.5" r="8.15"/><circle cx="1073.4" cy="1601.5" r="8.15"/><circle cx="1074.0" cy="1601.4" r="8.15"/><circle cx="1074.6" cy="1601.4" r="8.15"/><circle cx="1075.2" cy="1601.3" r="8.15"/><circle cx="1075.9" cy="1601.3" r="8.15"/><circle cx="1076.5" cy="1601.2" r="8.15"/><circle cx="1077.1" cy="1601.2" r="8.15"/><circle cx="1077.7" cy="1601.2" r="8.15"/><circle cx="1078.3" cy="1601.1" r="8.15"/><circle cx="1078.9" cy="1601.1" r="8.15"/><circle cx="1079.5" cy="1601.0" r="8.15"/><circle cx="1080.1" cy="1601.0" r="8.15"/><circle cx="1080.7" cy="1600.9" r="8.15"/><circle cx="1081.3" cy="1600.9" r="8.15"/><circle cx="1081.9" cy="1600.8" r="8.15"/><circle cx="1082.5" cy="1600.8" r="8.15"/><circle cx="1083.1" cy="1600.7" r="8.15"/><circle cx="1083.7" cy="1600.7" r="8.15"/><circle cx="1084.3" cy="1600.7" r="8.15"/><circle cx="1084.9" cy="1600.6" r="8.15"/><circle cx="1085.5" cy="1600.6" r="8.15"/><circle cx="1086.2" cy="1600.5" r="8.15"/><circle cx="1086.8" cy="1600.5" r="8.15"/><circle cx="1087.4" cy="1600.4" r="8.15"/><circle cx="1088.0" cy="1600.4" r="8.15"/><circle cx="1088.6" cy="1600.3" r="8.15"/><circle cx="1089.2" cy="1600.3" r="8.15"/><circle cx="1089.8" cy="1600.2" r="8.15"/><circle cx="1090.5" cy="1600.2" r="8.15"/><circle cx="1091.1" cy="1600.1" r="8.15"/><circle cx="1091.7" cy="1600.1" r="8.15"/><circle cx="1092.3" cy="1600.0" r="8.15"/><circle cx="1092.9" cy="1600.0" r="8.15"/><circle cx="1093.5" cy="1599.9" r="8.15"/><circle cx="1094.1" cy="1599.9" r="8.15"/><circle cx="1094.7" cy="1599.9" r="8.15"/><circle cx="1095.4" cy="1599.8" r="8.15"/><circle cx="1096.0" cy="1599.8" r="8.15"/><circle cx="1096.6" cy="1599.7" r="8.15"/><circle cx="1097.2" cy="1599.7" r="8.15"/><circle cx="1097.8" cy="1599.6" r="8.15"/><circle cx="1098.4" cy="1599.6" r="8.15"/><circle cx="1099.0" cy="1599.6" r="8.15"/><circle cx="1099.6" cy="1599.5" r="8.15"/><circle cx="1100.2" cy="1599.5" r="8.15"/><circle cx="1100.8" cy="1599.4" r="8.15"/><circle cx="1101.5" cy="1599.4" r="8.15"/><circle cx="1102.1" cy="1599.3" r="8.15"/><circle cx="1102.7" cy="1599.3" r="8.15"/><circle cx="1103.3" cy="1599.2" r="8.15"/><circle cx="1103.9" cy="1599.2" r="8.15"/><circle cx="1104.5" cy="1599.1" r="8.15"/><circle cx="1105.1" cy="1599.1" r="8.15"/><circle cx="1105.7" cy="1599.1" r="8.15"/><circle cx="1106.3" cy="1599.1" r="8.15"/><circle cx="1106.9" cy="1599.0" r="8.15"/><circle cx="1107.5" cy="1599.0" r="8.15"/><circle cx="1108.1" cy="1599.0" r="8.15"/><circle cx="1108.8" cy="1599.0" r="8.15"/><circle cx="1109.4" cy="1598.9" r="8.15"/><circle cx="1110.0" cy="1598.9" r="8.15"/><circle cx="1110.6" cy="1598.9" r="8.15"/><circle cx="1111.2" cy="1598.9" r="8.15"/><circle cx="1111.8" cy="1598.8" r="8.15"/><circle cx="1112.4" cy="1598.8" r="8.15"/><circle cx="1113.0" cy="1598.8" r="8.15"/><circle cx="1113.6" cy="1598.7" r="8.15"/><circle cx="1114.2" cy="1598.7" r="8.15"/><circle cx="1114.8" cy="1598.7" r="8.15"/><circle cx="1115.4" cy="1598.6" r="8.15"/><circle cx="1116.0" cy="1598.6" r="8.15"/><circle cx="1116.6" cy="1598.6" r="8.15"/><circle cx="1117.2" cy="1598.6" r="8.15"/><circle cx="1117.9" cy="1598.5" r="8.15"/><circle cx="1118.5" cy="1598.5" r="8.15"/><circle cx="1119.1" cy="1598.5" r="8.15"/><circle cx="1119.7" cy="1598.4" r="8.15"/><circle cx="1120.3" cy="1598.4" r="8.15"/><circle cx="1120.9" cy="1598.4" r="8.15"/><circle cx="1121.5" cy="1598.3" r="8.15"/><circle cx="1122.1" cy="1598.3" r="8.15"/><circle cx="1122.7" cy="1598.3" r="8.15"/><circle cx="1123.3" cy="1598.3" r="8.15"/><circle cx="1123.9" cy="1598.2" r="8.15"/><circle cx="1124.5" cy="1598.2" r="8.15"/><circle cx="1125.1" cy="1598.2" r="8.15"/><circle cx="1125.7" cy="1598.2" r="8.15"/><circle cx="1126.3" cy="1598.1" r="8.15"/><circle cx="1126.9" cy="1598.1" r="8.15"/><circle cx="1127.5" cy="1598.1" r="8.15"/><circle cx="1128.2" cy="1598.1" r="8.15"/><circle cx="1128.8" cy="1598.1" r="8.15"/><circle cx="1129.4" cy="1598.0" r="8.15"/><circle cx="1130.0" cy="1598.0" r="8.15"/><circle cx="1130.6" cy="1598.0" r="8.15"/><circle cx="1131.2" cy="1598.0" r="8.15"/><circle cx="1131.8" cy="1597.9" r="8.15"/><circle cx="1132.4" cy="1597.9" r="8.15"/><circle cx="1133.0" cy="1597.9" r="8.15"/><circle cx="1133.6" cy="1597.9" r="8.15"/><circle cx="1134.2" cy="1597.8" r="8.15"/><circle cx="1134.8" cy="1597.8" r="8.15"/><circle cx="1135.4" cy="1597.8" r="8.15"/><circle cx="1136.0" cy="1597.8" r="8.15"/><circle cx="1136.6" cy="1597.7" r="8.15"/><circle cx="1137.3" cy="1597.7" r="8.15"/><circle cx="1137.9" cy="1597.7" r="8.15"/><circle cx="1138.5" cy="1597.7" r="8.15"/><circle cx="1139.1" cy="1597.6" r="8.15"/><circle cx="1139.7" cy="1597.6" r="8.15"/><circle cx="1140.3" cy="1597.6" r="8.15"/><circle cx="1140.9" cy="1597.6" r="8.15"/><circle cx="1141.5" cy="1597.6" r="8.15"/><circle cx="1142.1" cy="1597.5" r="8.15"/><circle cx="1142.7" cy="1597.5" r="8.15"/><circle cx="1143.3" cy="1597.5" r="8.15"/><circle cx="1143.9" cy="1597.5" r="8.15"/><circle cx="1144.6" cy="1597.4" r="8.15"/><circle cx="1145.2" cy="1597.4" r="8.15"/><circle cx="1145.8" cy="1597.4" r="8.15"/><circle cx="1146.4" cy="1597.4" r="8.15"/><circle cx="1147.0" cy="1597.3" r="8.15"/><circle cx="1147.6" cy="1597.3" r="8.15"/><circle cx="1148.2" cy="1597.3" r="8.15"/><circle cx="1148.8" cy="1597.3" r="8.15"/><circle cx="1149.4" cy="1597.2" r="8.15"/><circle cx="1150.0" cy="1597.2" r="8.15"/><circle cx="1150.7" cy="1597.2" r="8.15"/><circle cx="1151.3" cy="1597.2" r="8.15"/><circle cx="1151.9" cy="1597.1" r="8.15"/><circle cx="1152.5" cy="1597.1" r="8.15"/><circle cx="1153.1" cy="1597.1" r="8.15"/><circle cx="1153.7" cy="1597.1" r="8.15"/><circle cx="1154.3" cy="1597.0" r="8.15"/><circle cx="1154.9" cy="1597.0" r="8.15"/><circle cx="1155.6" cy="1597.0" r="8.15"/><circle cx="1156.2" cy="1597.0" r="8.15"/><circle cx="1156.8" cy="1597.0" r="8.15"/><circle cx="1157.4" cy="1596.9" r="8.15"/><circle cx="1158.0" cy="1596.9" r="8.15"/><circle cx="1158.6" cy="1596.9" r="8.15"/><circle cx="1159.2" cy="1596.9" r="8.15"/><circle cx="1159.9" cy="1596.8" r="8.15"/><circle cx="1160.5" cy="1596.8" r="8.15"/><circle cx="1161.1" cy="1596.8" r="8.15"/><circle cx="1161.7" cy="1596.8" r="8.15"/><circle cx="1162.3" cy="1596.8" r="8.15"/><circle cx="1162.9" cy="1596.7" r="8.15"/><circle cx="1163.6" cy="1596.7" r="8.15"/><circle cx="1164.2" cy="1596.7" r="8.15"/><circle cx="1164.8" cy="1596.7" r="8.15"/><circle cx="1165.4" cy="1596.7" r="8.15"/><circle cx="1166.0" cy="1596.6" r="8.15"/><circle cx="1166.6" cy="1596.6" r="8.15"/><circle cx="1167.2" cy="1596.6" r="8.15"/><circle cx="1167.8" cy="1596.6" r="8.15"/><circle cx="1168.4" cy="1596.6" r="8.15"/><circle cx="1169.0" cy="1596.5" r="8.15"/><circle cx="1169.6" cy="1596.5" r="8.15"/><circle cx="1170.2" cy="1596.5" r="8.15"/><circle cx="1170.8" cy="1596.5" r="8.15"/><circle cx="1171.4" cy="1596.5" r="8.15"/><circle cx="1172.0" cy="1596.4" r="8.15"/><circle cx="1172.6" cy="1596.4" r="8.15"/><circle cx="1173.2" cy="1596.4" r="8.15"/><circle cx="1173.8" cy="1596.4" r="8.15"/><circle cx="1174.4" cy="1596.3" r="8.15"/><circle cx="1175.1" cy="1596.3" r="8.15"/><circle cx="1175.7" cy="1596.3" r="8.15"/><circle cx="1176.3" cy="1596.3" r="8.15"/><circle cx="1176.9" cy="1596.3" r="8.15"/><circle cx="1177.5" cy="1596.3" r="8.15"/><circle cx="1178.1" cy="1596.2" r="8.15"/><circle cx="1178.7" cy="1596.2" r="8.15"/><circle cx="1179.3" cy="1596.2" r="8.15"/><circle cx="1179.9" cy="1596.2" r="8.15"/><circle cx="1180.5" cy="1596.2" r="8.15"/><circle cx="1181.1" cy="1596.1" r="8.15"/><circle cx="1181.7" cy="1596.1" r="8.15"/><circle cx="1182.4" cy="1596.1" r="8.15"/><circle cx="1183.0" cy="1596.1" r="8.15"/><circle cx="1183.6" cy="1596.0" r="8.15"/><circle cx="1184.2" cy="1596.0" r="8.15"/><circle cx="1184.8" cy="1596.0" r="8.15"/><circle cx="1185.4" cy="1596.0" r="8.15"/><circle cx="1186.0" cy="1596.0" r="8.15"/><circle cx="1186.7" cy="1596.0" r="8.15"/><circle cx="1187.3" cy="1595.9" r="8.15"/><circle cx="1187.9" cy="1595.9" r="8.15"/><circle cx="1188.5" cy="1595.9" r="8.15"/><circle cx="1189.1" cy="1595.9" r="8.15"/><circle cx="1189.7" cy="1595.8" r="8.15"/><circle cx="1190.4" cy="1595.8" r="8.15"/><circle cx="1191.0" cy="1595.8" r="8.15"/><circle cx="1191.6" cy="1595.8" r="8.15"/><circle cx="1192.2" cy="1595.8" r="8.15"/><circle cx="1192.8" cy="1595.7" r="8.15"/><circle cx="1193.4" cy="1595.7" r="8.15"/><circle cx="1194.0" cy="1595.7" r="8.15"/><circle cx="1194.6" cy="1595.7" r="8.15"/><circle cx="1195.2" cy="1595.7" r="8.15"/><circle cx="1195.8" cy="1595.6" r="8.15"/><circle cx="1196.4" cy="1595.6" r="8.15"/><circle cx="1197.0" cy="1595.6" r="8.15"/><circle cx="1197.6" cy="1595.6" r="8.15"/><circle cx="1198.2" cy="1595.6" r="8.15"/><circle cx="1198.8" cy="1595.5" r="8.15"/><circle cx="1199.4" cy="1595.5" r="8.15"/><circle cx="1200.0" cy="1595.5" r="8.15"/><circle cx="1200.6" cy="1595.5" r="8.15"/><circle cx="1201.2" cy="1595.5" r="8.15"/><circle cx="1201.9" cy="1595.4" r="8.15"/><circle cx="1202.5" cy="1595.4" r="8.15"/><circle cx="1203.1" cy="1595.4" r="8.15"/><circle cx="1203.7" cy="1595.4" r="8.15"/><circle cx="1204.3" cy="1595.4" r="8.15"/><circle cx="1204.9" cy="1595.4" r="8.15"/><circle cx="1205.5" cy="1595.3" r="8.15"/><circle cx="1206.2" cy="1595.3" r="8.15"/><circle cx="1206.8" cy="1595.3" r="8.15"/><circle cx="1207.4" cy="1595.3" r="8.15"/><circle cx="1208.0" cy="1595.3" r="8.15"/><circle cx="1208.6" cy="1595.2" r="8.15"/><circle cx="1209.2" cy="1595.2" r="8.15"/><circle cx="1209.8" cy="1595.2" r="8.15"/><circle cx="1210.4" cy="1595.2" r="8.15"/><circle cx="1211.0" cy="1595.2" r="8.15"/><circle cx="1211.6" cy="1595.1" r="8.15"/><circle cx="1212.2" cy="1595.1" r="8.15"/><circle cx="1212.8" cy="1595.1" r="8.15"/><circle cx="1213.4" cy="1595.1" r="8.15"/><circle cx="1214.1" cy="1595.1" r="8.15"/><circle cx="1214.7" cy="1595.1" r="8.15"/><circle cx="1215.3" cy="1595.0" r="8.15"/><circle cx="1215.9" cy="1595.0" r="8.15"/><circle cx="1216.5" cy="1595.0" r="8.15"/><circle cx="1217.1" cy="1595.0" r="8.15"/><circle cx="1217.7" cy="1595.0" r="8.15"/><circle cx="1218.3" cy="1594.9" r="8.15"/><circle cx="1218.9" cy="1594.9" r="8.15"/><circle cx="1219.5" cy="1594.9" r="8.15"/><circle cx="1220.2" cy="1594.9" r="8.15"/><circle cx="1220.8" cy="1594.9" r="8.15"/><circle cx="1221.4" cy="1594.8" r="8.15"/><circle cx="1222.0" cy="1594.8" r="8.15"/><circle cx="1222.6" cy="1594.8" r="8.15"/><circle cx="1223.2" cy="1594.8" r="8.15"/><circle cx="1223.9" cy="1594.8" r="8.15"/><circle cx="1224.5" cy="1594.7" r="8.15"/><circle cx="1225.1" cy="1594.7" r="8.15"/><circle cx="1225.7" cy="1594.7" r="8.15"/><circle cx="1226.3" cy="1594.7" r="8.15"/><circle cx="1226.9" cy="1594.7" r="8.15"/><circle cx="1227.5" cy="1594.7" r="8.15"/><circle cx="1228.1" cy="1594.6" r="8.15"/><circle cx="1228.7" cy="1594.6" r="8.15"/><circle cx="1229.3" cy="1594.6" r="8.15"/><circle cx="1229.9" cy="1594.6" r="8.15"/><circle cx="1230.5" cy="1594.6" r="8.15"/><circle cx="1231.1" cy="1594.5" r="8.15"/><circle cx="1231.7" cy="1594.5" r="8.15"/><circle cx="1232.3" cy="1594.5" r="8.15"/><circle cx="1233.0" cy="1594.5" r="8.15"/><circle cx="1233.6" cy="1594.5" r="8.15"/><circle cx="1234.2" cy="1594.4" r="8.15"/><circle cx="1234.8" cy="1594.4" r="8.15"/><circle cx="1235.4" cy="1594.4" r="8.15"/><circle cx="1236.0" cy="1594.4" r="8.15"/><circle cx="1236.6" cy="1594.4" r="8.15"/><circle cx="1237.3" cy="1594.3" r="8.15"/><circle cx="1237.9" cy="1594.3" r="8.15"/><circle cx="1238.5" cy="1594.3" r="8.15"/><circle cx="1239.1" cy="1594.3" r="8.15"/><circle cx="1239.7" cy="1594.3" r="8.15"/><circle cx="1240.3" cy="1594.3" r="8.15"/><circle cx="1240.9" cy="1594.2" r="8.15"/><circle cx="1241.5" cy="1594.2" r="8.15"/><circle cx="1242.1" cy="1594.2" r="8.15"/><circle cx="1242.7" cy="1594.2" r="8.15"/><circle cx="1243.3" cy="1594.2" r="8.15"/><circle cx="1243.9" cy="1594.1" r="8.15"/><circle cx="1244.6" cy="1594.1" r="8.15"/><circle cx="1245.2" cy="1594.1" r="8.15"/><circle cx="1245.8" cy="1594.1" r="8.15"/><circle cx="1246.4" cy="1594.1" r="8.15"/><circle cx="1247.0" cy="1594.0" r="8.15"/><circle cx="1247.6" cy="1594.0" r="8.15"/><circle cx="1248.2" cy="1594.0" r="8.15"/><circle cx="1248.8" cy="1594.0" r="8.15"/><circle cx="1249.5" cy="1594.0" r="8.15"/><circle cx="1250.1" cy="1594.0" r="8.15"/><circle cx="1250.7" cy="1593.9" r="8.15"/><circle cx="1251.3" cy="1593.9" r="8.15"/><circle cx="1251.9" cy="1593.9" r="8.15"/><circle cx="1252.5" cy="1593.9" r="8.15"/><circle cx="1253.1" cy="1593.8" r="8.15"/><circle cx="1253.7" cy="1593.8" r="8.15"/><circle cx="1254.3" cy="1593.8" r="8.15"/><circle cx="1254.9" cy="1593.7" r="8.15"/><circle cx="1255.5" cy="1593.7" r="8.15"/><circle cx="1256.2" cy="1593.7" r="8.15"/><circle cx="1256.8" cy="1593.6" r="8.15"/><circle cx="1257.4" cy="1593.6" r="8.15"/><circle cx="1258.0" cy="1593.6" r="8.15"/><circle cx="1258.6" cy="1593.5" r="8.15"/><circle cx="1259.2" cy="1593.5" r="8.15"/><circle cx="1259.8" cy="1593.5" r="8.15"/><circle cx="1260.4" cy="1593.4" r="8.15"/><circle cx="1261.0" cy="1593.4" r="8.15"/><circle cx="1261.7" cy="1593.4" r="8.15"/><circle cx="1262.3" cy="1593.3" r="8.15"/><circle cx="1262.9" cy="1593.3" r="8.15"/><circle cx="1263.5" cy="1593.2" r="8.15"/><circle cx="1264.1" cy="1593.2" r="8.15"/><circle cx="1264.7" cy="1593.2" r="8.15"/><circle cx="1265.3" cy="1593.1" r="8.15"/><circle cx="1265.9" cy="1593.1" r="8.15"/><circle cx="1266.5" cy="1593.1" r="8.15"/><circle cx="1267.1" cy="1593.0" r="8.15"/><circle cx="1267.8" cy="1593.0" r="8.15"/><circle cx="1268.4" cy="1593.0" r="8.15"/><circle cx="1269.0" cy="1592.9" r="8.15"/><circle cx="1269.6" cy="1592.9" r="8.15"/><circle cx="1270.2" cy="1592.9" r="8.15"/><circle cx="1270.8" cy="1592.8" r="8.15"/><circle cx="1271.4" cy="1592.8" r="8.15"/><circle cx="1272.0" cy="1592.8" r="8.15"/><circle cx="1272.7" cy="1592.7" r="8.15"/><circle cx="1273.3" cy="1592.7" r="8.15"/><circle cx="1273.9" cy="1592.7" r="8.15"/><circle cx="1274.5" cy="1592.6" r="8.15"/><circle cx="1275.1" cy="1592.6" r="8.15"/><circle cx="1275.7" cy="1592.6" r="8.15"/><circle cx="1276.3" cy="1592.5" r="8.15"/><circle cx="1276.9" cy="1592.5" r="8.15"/><circle cx="1277.5" cy="1592.5" r="8.15"/><circle cx="1278.1" cy="1592.4" r="8.15"/><circle cx="1278.8" cy="1592.4" r="8.15"/><circle cx="1279.4" cy="1592.4" r="8.15"/><circle cx="1280.0" cy="1592.3" r="8.15"/><circle cx="1280.6" cy="1592.3" r="8.15"/><circle cx="1281.2" cy="1592.2" r="8.15"/><circle cx="1281.8" cy="1592.2" r="8.15"/><circle cx="1282.4" cy="1592.2" r="8.15"/><circle cx="1283.0" cy="1592.1" r="8.15"/><circle cx="1283.6" cy="1592.1" r="8.15"/><circle cx="1284.3" cy="1592.1" r="8.15"/><circle cx="1284.9" cy="1592.0" r="8.15"/><circle cx="1285.5" cy="1592.0" r="8.15"/><circle cx="1286.1" cy="1592.0" r="8.15"/><circle cx="1286.7" cy="1591.9" r="8.15"/><circle cx="1287.3" cy="1591.9" r="8.15"/><circle cx="1287.9" cy="1591.9" r="8.15"/><circle cx="1288.5" cy="1591.8" r="8.15"/><circle cx="1289.1" cy="1591.8" r="8.15"/><circle cx="1289.7" cy="1591.8" r="8.15"/><circle cx="1290.4" cy="1591.7" r="8.15"/><circle cx="1291.0" cy="1591.7" r="8.15"/><circle cx="1291.6" cy="1591.7" r="8.15"/><circle cx="1292.2" cy="1591.6" r="8.15"/><circle cx="1292.8" cy="1591.6" r="8.15"/><circle cx="1293.4" cy="1591.5" r="8.15"/><circle cx="1294.0" cy="1591.5" r="8.15"/><circle cx="1294.6" cy="1591.5" r="8.15"/><circle cx="1295.3" cy="1591.5" r="8.15"/><circle cx="1295.9" cy="1591.4" r="8.15"/><circle cx="1296.5" cy="1591.4" r="8.15"/><circle cx="1297.1" cy="1591.4" r="8.15"/><circle cx="1297.7" cy="1591.3" r="8.15"/><circle cx="1298.4" cy="1591.3" r="8.15"/><circle cx="1299.0" cy="1591.3" r="8.15"/><circle cx="1299.6" cy="1591.2" r="8.15"/><circle cx="1300.2" cy="1591.2" r="8.15"/><circle cx="1300.8" cy="1591.2" r="8.15"/><circle cx="1301.4" cy="1591.1" r="8.15"/><circle cx="1302.0" cy="1591.1" r="8.15"/><circle cx="1302.6" cy="1591.1" r="8.15"/><circle cx="1303.2" cy="1591.0" r="8.15"/><circle cx="1303.8" cy="1591.0" r="8.15"/><circle cx="1304.4" cy="1590.9" r="8.15"/><circle cx="1305.1" cy="1590.9" r="8.15"/><circle cx="1305.7" cy="1590.8" r="8.15"/><circle cx="1306.3" cy="1590.7" r="8.15"/><circle cx="1306.9" cy="1590.7" r="8.15"/><circle cx="1307.5" cy="1590.6" r="8.15"/><circle cx="1308.1" cy="1590.5" r="8.15"/><circle cx="1308.7" cy="1590.5" r="8.15"/><circle cx="1309.3" cy="1590.4" r="8.15"/><circle cx="1309.9" cy="1590.3" r="8.15"/><circle cx="1310.5" cy="1590.3" r="8.15"/><circle cx="1311.2" cy="1590.2" r="8.15"/><circle cx="1311.8" cy="1590.1" r="8.15"/><circle cx="1312.4" cy="1590.0" r="8.15"/><circle cx="1313.0" cy="1590.0" r="8.15"/><circle cx="1313.6" cy="1589.9" r="8.15"/><circle cx="1314.2" cy="1589.8" r="8.15"/><circle cx="1314.8" cy="1589.8" r="8.15"/><circle cx="1315.4" cy="1589.7" r="8.15"/><circle cx="1316.1" cy="1589.6" r="8.15"/><circle cx="1316.7" cy="1589.6" r="8.15"/><circle cx="1317.3" cy="1589.5" r="8.15"/><circle cx="1317.9" cy="1589.5" r="8.15"/><circle cx="1318.5" cy="1589.4" r="8.15"/><circle cx="1319.1" cy="1589.4" r="8.15"/><circle cx="1319.7" cy="1589.3" r="8.15"/><circle cx="1320.3" cy="1589.2" r="8.15"/><circle cx="1320.9" cy="1589.1" r="8.15"/><circle cx="1321.5" cy="1589.1" r="8.15"/><circle cx="1322.1" cy="1589.0" r="8.15"/><circle cx="1322.7" cy="1588.9" r="8.15"/><circle cx="1323.4" cy="1588.9" r="8.15"/><circle cx="1324.0" cy="1588.8" r="8.15"/><circle cx="1324.6" cy="1588.8" r="8.15"/><circle cx="1325.2" cy="1588.7" r="8.15"/><circle cx="1325.8" cy="1588.7" r="8.15"/><circle cx="1326.4" cy="1588.6" r="8.15"/><circle cx="1327.0" cy="1588.5" r="8.15"/><circle cx="1327.7" cy="1588.4" r="8.15"/><circle cx="1328.3" cy="1588.4" r="8.15"/><circle cx="1328.9" cy="1588.3" r="8.15"/><circle cx="1329.5" cy="1588.3" r="8.15"/><circle cx="1330.1" cy="1588.2" r="8.15"/><circle cx="1330.7" cy="1588.1" r="8.15"/><circle cx="1331.3" cy="1588.1" r="8.15"/><circle cx="1331.9" cy="1588.0" r="8.15"/><circle cx="1332.5" cy="1587.9" r="8.15"/><circle cx="1333.1" cy="1587.9" r="8.15"/><circle cx="1333.8" cy="1587.8" r="8.15"/><circle cx="1334.4" cy="1587.7" r="8.15"/><circle cx="1335.0" cy="1587.7" r="8.15"/><circle cx="1335.6" cy="1587.6" r="8.15"/><circle cx="1336.2" cy="1587.6" r="8.15"/><circle cx="1336.8" cy="1587.5" r="8.15"/><circle cx="1337.5" cy="1587.4" r="8.15"/><circle cx="1338.1" cy="1587.3" r="8.15"/><circle cx="1338.7" cy="1587.2" r="8.15"/><circle cx="1339.3" cy="1587.2" r="8.15"/><circle cx="1340.0" cy="1587.1" r="8.15"/><circle cx="1340.6" cy="1587.0" r="8.15"/><circle cx="1341.2" cy="1587.0" r="8.15"/><circle cx="1341.8" cy="1586.9" r="8.15"/><circle cx="1342.4" cy="1586.9" r="8.15"/><circle cx="1343.0" cy="1586.8" r="8.15"/><circle cx="1343.6" cy="1586.7" r="8.15"/><circle cx="1344.2" cy="1586.7" r="8.15"/><circle cx="1344.8" cy="1586.6" r="8.15"/><circle cx="1345.4" cy="1586.6" r="8.15"/><circle cx="1346.0" cy="1586.5" r="8.15"/><circle cx="1346.7" cy="1586.4" r="8.15"/><circle cx="1347.3" cy="1586.4" r="8.15"/><circle cx="1347.9" cy="1586.3" r="8.15"/><circle cx="1348.5" cy="1586.2" r="8.15"/><circle cx="1349.1" cy="1586.1" r="8.15"/><circle cx="1349.8" cy="1586.1" r="8.15"/><circle cx="1350.4" cy="1586.0" r="8.15"/><circle cx="1351.0" cy="1586.0" r="8.15"/><circle cx="1351.6" cy="1585.9" r="8.15"/><circle cx="1352.2" cy="1585.8" r="8.15"/><circle cx="1352.8" cy="1585.8" r="8.15"/><circle cx="1353.4" cy="1585.7" r="8.15"/><circle cx="1354.0" cy="1585.6" r="8.15"/><circle cx="1354.6" cy="1585.6" r="8.15"/><circle cx="1355.3" cy="1585.5" r="8.15"/><circle cx="1355.9" cy="1585.4" r="8.15"/><circle cx="1356.5" cy="1585.3" r="8.15"/><circle cx="1357.1" cy="1585.3" r="8.15"/><circle cx="1357.7" cy="1585.2" r="8.15"/><circle cx="1358.3" cy="1585.1" r="8.15"/><circle cx="1359.0" cy="1585.0" r="8.15"/><circle cx="1359.6" cy="1584.9" r="8.15"/><circle cx="1360.2" cy="1584.8" r="8.15"/><circle cx="1360.8" cy="1584.7" r="8.15"/><circle cx="1361.4" cy="1584.6" r="8.15"/><circle cx="1362.0" cy="1584.5" r="8.15"/><circle cx="1362.6" cy="1584.4" r="8.15"/><circle cx="1363.2" cy="1584.4" r="8.15"/><circle cx="1363.8" cy="1584.2" r="8.15"/><circle cx="1364.4" cy="1584.1" r="8.15"/><circle cx="1365.0" cy="1584.0" r="8.15"/><circle cx="1365.7" cy="1584.0" r="8.15"/><circle cx="1366.3" cy="1583.8" r="8.15"/><circle cx="1366.9" cy="1583.7" r="8.15"/><circle cx="1367.5" cy="1583.6" r="8.15"/><circle cx="1368.1" cy="1583.6" r="8.15"/><circle cx="1368.7" cy="1583.5" r="8.15"/><circle cx="1369.4" cy="1583.4" r="8.15"/><circle cx="1370.0" cy="1583.3" r="8.15"/><circle cx="1370.6" cy="1583.3" r="8.15"/><circle cx="1371.2" cy="1583.2" r="8.15"/><circle cx="1371.8" cy="1583.1" r="8.15"/><circle cx="1372.4" cy="1583.0" r="8.15"/><circle cx="1373.0" cy="1582.9" r="8.15"/><circle cx="1373.6" cy="1582.8" r="8.15"/><circle cx="1374.2" cy="1582.7" r="8.15"/><circle cx="1374.8" cy="1582.7" r="8.15"/><circle cx="1375.4" cy="1582.6" r="8.15"/><circle cx="1376.0" cy="1582.5" r="8.15"/><circle cx="1376.7" cy="1582.4" r="8.15"/><circle cx="1377.3" cy="1582.3" r="8.15"/><circle cx="1377.9" cy="1582.2" r="8.15"/><circle cx="1378.5" cy="1582.1" r="8.15"/><circle cx="1379.1" cy="1582.0" r="8.15"/><circle cx="1379.8" cy="1582.0" r="8.15"/><circle cx="1380.4" cy="1581.8" r="8.15"/><circle cx="1381.0" cy="1581.7" r="8.15"/><circle cx="1381.6" cy="1581.6" r="8.15"/><circle cx="1382.2" cy="1581.5" r="8.15"/><circle cx="1382.8" cy="1581.4" r="8.15"/><circle cx="1383.4" cy="1581.3" r="8.15"/><circle cx="1384.0" cy="1581.3" r="8.15"/><circle cx="1384.6" cy="1581.2" r="8.15"/><circle cx="1385.2" cy="1581.1" r="8.15"/><circle cx="1385.8" cy="1581.0" r="8.15"/><circle cx="1386.4" cy="1580.9" r="8.15"/><circle cx="1387.0" cy="1580.8" r="8.15"/><circle cx="1387.6" cy="1580.7" r="8.15"/><circle cx="1388.3" cy="1580.5" r="8.15"/><circle cx="1388.9" cy="1580.4" r="8.15"/><circle cx="1389.5" cy="1580.3" r="8.15"/><circle cx="1390.1" cy="1580.2" r="8.15"/><circle cx="1390.7" cy="1580.0" r="8.15"/><circle cx="1391.3" cy="1579.9" r="8.15"/><circle cx="1391.9" cy="1579.7" r="8.15"/><circle cx="1392.5" cy="1579.6" r="8.15"/><circle cx="1393.1" cy="1579.5" r="8.15"/><circle cx="1393.7" cy="1579.4" r="8.15"/><circle cx="1394.4" cy="1579.3" r="8.15"/><circle cx="1395.0" cy="1579.2" r="8.15"/><circle cx="1395.6" cy="1579.1" r="8.15"/><circle cx="1396.2" cy="1578.9" r="8.15"/><circle cx="1396.8" cy="1578.8" r="8.15"/><circle cx="1397.4" cy="1578.7" r="8.15"/><circle cx="1398.0" cy="1578.6" r="8.15"/><circle cx="1398.6" cy="1578.5" r="8.15"/><circle cx="1399.2" cy="1578.3" r="8.15"/><circle cx="1399.8" cy="1578.2" r="8.15"/><circle cx="1400.4" cy="1578.0" r="8.15"/><circle cx="1401.0" cy="1577.9" r="8.15"/><circle cx="1401.6" cy="1577.7" r="8.15"/><circle cx="1402.3" cy="1577.5" r="8.15"/><circle cx="1402.8" cy="1577.4" r="8.15"/><circle cx="1403.4" cy="1577.2" r="8.15"/><circle cx="1404.0" cy="1577.1" r="8.15"/><circle cx="1404.6" cy="1576.9" r="8.15"/><circle cx="1405.2" cy="1576.8" r="8.15"/><circle cx="1405.8" cy="1576.7" r="8.15"/><circle cx="1406.4" cy="1576.5" r="8.15"/><circle cx="1406.9" cy="1576.2" r="8.15"/><circle cx="1407.5" cy="1576.1" r="8.15"/><circle cx="1408.1" cy="1575.9" r="8.15"/><circle cx="1408.7" cy="1575.6" r="8.15"/><circle cx="1409.3" cy="1575.4" r="8.15"/><circle cx="1409.9" cy="1575.2" r="8.15"/><circle cx="1410.5" cy="1575.0" r="8.15"/><circle cx="1411.1" cy="1574.8" r="8.15"/><circle cx="1411.7" cy="1574.5" r="8.15"/><circle cx="1412.3" cy="1574.4" r="8.15"/><circle cx="1412.9" cy="1574.2" r="8.15"/><circle cx="1413.5" cy="1574.1" r="8.15"/><circle cx="1414.1" cy="1573.9" r="8.15"/><circle cx="1414.7" cy="1573.7" r="8.15"/><circle cx="1415.3" cy="1573.6" r="8.15"/><circle cx="1415.9" cy="1573.4" r="8.15"/><circle cx="1416.5" cy="1573.2" r="8.15"/><circle cx="1417.1" cy="1573.0" r="8.15"/><circle cx="1417.7" cy="1572.9" r="8.15"/><circle cx="1418.3" cy="1572.7" r="8.15"/><circle cx="1418.9" cy="1572.5" r="8.15"/><circle cx="1419.4" cy="1572.3" r="8.15"/><circle cx="1420.0" cy="1572.1" r="8.15"/><circle cx="1420.7" cy="1572.0" r="8.15"/><circle cx="1421.3" cy="1571.9" r="8.15"/><circle cx="1421.9" cy="1571.7" r="8.15"/><circle cx="1422.5" cy="1571.5" r="8.15"/><circle cx="1423.1" cy="1571.4" r="8.15"/><circle cx="1423.7" cy="1571.2" r="8.15"/><circle cx="1424.3" cy="1571.0" r="8.15"/><circle cx="1424.9" cy="1570.8" r="8.15"/><circle cx="1425.5" cy="1570.6" r="8.15"/><circle cx="1426.1" cy="1570.4" r="8.15"/><circle cx="1426.7" cy="1570.2" r="8.15"/><circle cx="1427.3" cy="1570.1" r="8.15"/><circle cx="1427.9" cy="1569.8" r="8.15"/><circle cx="1428.5" cy="1569.6" r="8.15"/><circle cx="1429.0" cy="1569.4" r="8.15"/><circle cx="1429.6" cy="1569.3" r="8.15"/><circle cx="1430.2" cy="1569.2" r="8.15"/><circle cx="1430.8" cy="1569.0" r="8.15"/><circle cx="1431.4" cy="1568.8" r="8.15"/><circle cx="1432.0" cy="1568.6" r="8.15"/><circle cx="1432.6" cy="1568.4" r="8.15"/><circle cx="1433.2" cy="1568.2" r="8.15"/><circle cx="1433.8" cy="1567.9" r="8.15"/><circle cx="1434.3" cy="1567.7" r="8.15"/><circle cx="1434.9" cy="1567.4" r="8.15"/><circle cx="1435.5" cy="1567.3" r="8.15"/><circle cx="1436.1" cy="1567.1" r="8.15"/><circle cx="1436.7" cy="1566.9" r="8.15"/><circle cx="1437.3" cy="1566.7" r="8.15"/><circle cx="1437.9" cy="1566.5" r="8.15"/><circle cx="1438.6" cy="1566.3" r="8.15"/><circle cx="1439.2" cy="1566.1" r="8.15"/><circle cx="1439.7" cy="1565.8" r="8.15"/><circle cx="1440.3" cy="1565.5" r="8.15"/><circle cx="1440.9" cy="1565.4" r="8.15"/><circle cx="1441.5" cy="1565.2" r="8.15"/><circle cx="1442.1" cy="1565.0" r="8.15"/><circle cx="1442.7" cy="1564.9" r="8.15"/><circle cx="1443.3" cy="1564.6" r="8.15"/><circle cx="1443.8" cy="1564.4" r="8.15"/><circle cx="1444.4" cy="1564.1" r="8.15"/><circle cx="1445.0" cy="1563.8" r="8.15"/><circle cx="1445.6" cy="1563.6" r="8.15"/><circle cx="1446.2" cy="1563.4" r="8.15"/><circle cx="1446.8" cy="1563.1" r="8.15"/><circle cx="1447.3" cy="1562.9" r="8.15"/><circle cx="1448.0" cy="1562.7" r="8.15"/><circle cx="1448.6" cy="1562.6" r="8.15"/><circle cx="1449.2" cy="1562.4" r="8.15"/><circle cx="1449.7" cy="1562.1" r="8.15"/><circle cx="1450.3" cy="1561.9" r="8.15"/><circle cx="1450.9" cy="1561.6" r="8.15"/><circle cx="1451.5" cy="1561.4" r="8.15"/><circle cx="1452.1" cy="1561.2" r="8.15"/><circle cx="1452.8" cy="1561.1" r="8.15"/><circle cx="1453.4" cy="1560.9" r="8.15"/><circle cx="1454.0" cy="1560.7" r="8.15"/><circle cx="1454.6" cy="1560.4" r="8.15"/><circle cx="1455.2" cy="1560.1" r="8.15"/><circle cx="1455.8" cy="1559.9" r="8.15"/><circle cx="1456.4" cy="1559.8" r="8.15"/><circle cx="1457.1" cy="1559.6" r="8.15"/><circle cx="1457.7" cy="1559.4" r="8.15"/><circle cx="1458.2" cy="1559.1" r="8.15"/><circle cx="1458.8" cy="1558.9" r="8.15"/><circle cx="1459.4" cy="1558.6" r="8.15"/><circle cx="1460.0" cy="1558.4" r="8.15"/><circle cx="1460.6" cy="1558.2" r="8.15"/><circle cx="1461.1" cy="1557.9" r="8.15"/><circle cx="1461.7" cy="1557.7" r="8.15"/><circle cx="1462.3" cy="1557.3" r="8.15"/><circle cx="1462.8" cy="1557.0" r="8.15"/><circle cx="1463.3" cy="1556.8" r="8.15"/><circle cx="1464.4" cy="1556.0" r="8.15"/><circle cx="1465.0" cy="1555.7" r="8.15"/><circle cx="1465.7" cy="1555.5" r="8.15"/><circle cx="1466.3" cy="1555.3" r="8.15"/><circle cx="1466.8" cy="1555.1" r="8.15"/><circle cx="1467.4" cy="1554.8" r="8.15"/><circle cx="1468.0" cy="1554.5" r="8.15"/><circle cx="1469.1" cy="1554.0" r="8.15"/><circle cx="1469.7" cy="1553.8" r="8.15"/><circle cx="1470.3" cy="1553.6" r="8.15"/><circle cx="1471.4" cy="1553.0" r="8.15"/><circle cx="1472.0" cy="1552.7" r="8.15"/><circle cx="1472.6" cy="1552.4" r="8.15"/><circle cx="1473.2" cy="1552.1" r="8.15"/><circle cx="1473.8" cy="1551.9" r="8.15"/><circle cx="1474.4" cy="1551.6" r="8.15"/><circle cx="1476.0" cy="1550.6" r="8.15"/><circle cx="1477.7" cy="1549.5" r="8.15"/><circle cx="1478.8" cy="1548.8" r="8.15"/><circle cx="1480.5" cy="1548.0" r="8.15"/><circle cx="1481.2" cy="1547.8" r="8.15"/>
</g>
<path d="M168.9 1663.1L2076.1 1541.9" stroke="#000" stroke-width="4.45" fill="none"/>
<rect x="168.9" y="22.9" width="1907.2" height="1944.1" fill="none" stroke="#333" stroke-width="4.45"/>
</g>
<g stroke="#333" stroke-width="4.45" fill="none">
<path d="M598.8 1967.0v11.5"/><path d="M1122.6 1967.0v11.5"/><path d="M1646.3 1967.0v11.5"/><path d="M168.9 1592.9h-11.0"/><path d="M168.9 1132.6h-11.0"/><path d="M168.9 672.3h-11.0"/><path d="M168.9 212.0h-11.0"/></g>
<g fill="#4d4d4d" font-size="36.67px">
<text x="598.8" y="2014.3" text-anchor="middle">-2.5</text><text x="1122.6" y="2014.3" text-anchor="middle">0.0</text><text x="1646.3" y="2014.3" text-anchor="middle">2.5</text><text x="148.3" y="1606.4" text-anchor="end">0.00</text><text x="148.3" y="1146.1" text-anchor="end">0.01</text><text x="148.3" y="685.8" text-anchor="end">0.02</text><text x="148.3" y="225.5" text-anchor="end">0.03</text></g>
<g fill="#000" font-size="45.83px">
<text x="1122.5" y="2066.2" text-anchor="middle">Theoretical Normal Distribution (Z-score)</text>
<text transform="translate(55.8 995) rotate(-90)" text-anchor="middle">Observed Loadings</text>
</g>
</svg>
</body></html>
